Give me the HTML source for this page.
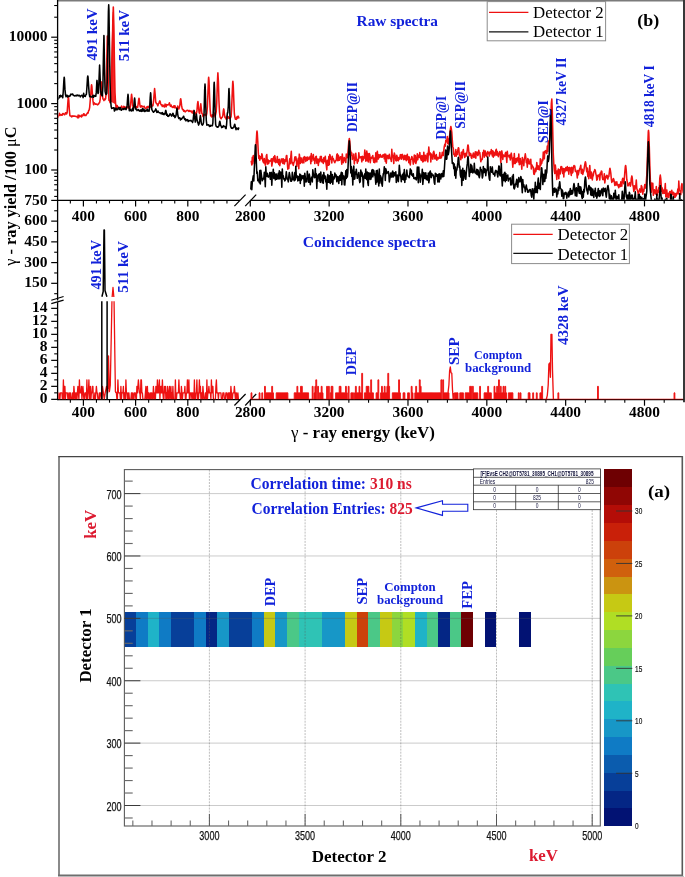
<!DOCTYPE html>
<html><head><meta charset="utf-8"><title>Spectra figure</title>
<style>html,body{margin:0;padding:0;background:#fff;}body{width:685px;height:877px;overflow:hidden;}svg{display:block;}</style>
</head><body>
<svg width="685" height="877" viewBox="0 0 685 877">
<defs><clipPath id="cliptop"><rect x="58.3" y="1.5" width="624.6" height="198.3"/></clipPath><clipPath id="clipbot"><rect x="58.3" y="200.9" width="624.6" height="198.3"/></clipPath></defs>
<rect x="0" y="0" width="685" height="877" fill="#fff"/>
<rect x="57.6" y="0" width="626.7" height="1.5" fill="#7b7b7b"/>
<line x1="57.6" y1="0" x2="57.6" y2="300.5" stroke="#000" stroke-width="1.3" />
<line x1="57.6" y1="302.2" x2="57.6" y2="400.2" stroke="#000" stroke-width="1.3" />
<line x1="684" y1="0" x2="684" y2="402.3" stroke="#383838" stroke-width="2" />
<line x1="57.6" y1="200.3" x2="240" y2="200.3" stroke="#000" stroke-width="1.2" />
<line x1="250.3" y1="200.3" x2="683.5" y2="200.3" stroke="#000" stroke-width="1.2" />
<line x1="234.4" y1="206.2" x2="245.6" y2="194.7" stroke="#000" stroke-width="1.2" />
<line x1="245.2" y1="206.2" x2="256.2" y2="194.7" stroke="#000" stroke-width="1.2" />
<line x1="57.6" y1="399.6" x2="240" y2="399.6" stroke="#000" stroke-width="1.2" />
<line x1="250.3" y1="399.6" x2="683.5" y2="399.6" stroke="#000" stroke-width="1.2" />
<line x1="234.4" y1="405.5" x2="245.6" y2="394" stroke="#000" stroke-width="1.2" />
<line x1="245.2" y1="405.5" x2="256.2" y2="394" stroke="#000" stroke-width="1.2" />
<line x1="51.3" y1="300.3" x2="63.6" y2="296.5" stroke="#000" stroke-width="1.2" />
<line x1="51.3" y1="303.6" x2="63.6" y2="300.1" stroke="#000" stroke-width="1.2" />
<line x1="54.2" y1="196.42" x2="57.6" y2="196.42" stroke="#000" stroke-width="1.1" />
<line x1="54.2" y1="189.99" x2="57.6" y2="189.99" stroke="#000" stroke-width="1.1" />
<line x1="54.2" y1="184.73" x2="57.6" y2="184.73" stroke="#000" stroke-width="1.1" />
<line x1="54.2" y1="180.29" x2="57.6" y2="180.29" stroke="#000" stroke-width="1.1" />
<line x1="54.2" y1="176.43" x2="57.6" y2="176.43" stroke="#000" stroke-width="1.1" />
<line x1="54.2" y1="173.04" x2="57.6" y2="173.04" stroke="#000" stroke-width="1.1" />
<line x1="51.2" y1="170" x2="57.6" y2="170" stroke="#000" stroke-width="1.2" />
<line x1="54.2" y1="150.01" x2="57.6" y2="150.01" stroke="#000" stroke-width="1.1" />
<line x1="54.2" y1="138.32" x2="57.6" y2="138.32" stroke="#000" stroke-width="1.1" />
<line x1="54.2" y1="130.02" x2="57.6" y2="130.02" stroke="#000" stroke-width="1.1" />
<line x1="54.2" y1="123.59" x2="57.6" y2="123.59" stroke="#000" stroke-width="1.1" />
<line x1="54.2" y1="118.33" x2="57.6" y2="118.33" stroke="#000" stroke-width="1.1" />
<line x1="54.2" y1="113.89" x2="57.6" y2="113.89" stroke="#000" stroke-width="1.1" />
<line x1="54.2" y1="110.03" x2="57.6" y2="110.03" stroke="#000" stroke-width="1.1" />
<line x1="54.2" y1="106.64" x2="57.6" y2="106.64" stroke="#000" stroke-width="1.1" />
<line x1="51.2" y1="103.6" x2="57.6" y2="103.6" stroke="#000" stroke-width="1.2" />
<line x1="54.2" y1="83.61" x2="57.6" y2="83.61" stroke="#000" stroke-width="1.1" />
<line x1="54.2" y1="71.92" x2="57.6" y2="71.92" stroke="#000" stroke-width="1.1" />
<line x1="54.2" y1="63.62" x2="57.6" y2="63.62" stroke="#000" stroke-width="1.1" />
<line x1="54.2" y1="57.19" x2="57.6" y2="57.19" stroke="#000" stroke-width="1.1" />
<line x1="54.2" y1="51.93" x2="57.6" y2="51.93" stroke="#000" stroke-width="1.1" />
<line x1="54.2" y1="47.49" x2="57.6" y2="47.49" stroke="#000" stroke-width="1.1" />
<line x1="54.2" y1="43.63" x2="57.6" y2="43.63" stroke="#000" stroke-width="1.1" />
<line x1="54.2" y1="40.24" x2="57.6" y2="40.24" stroke="#000" stroke-width="1.1" />
<line x1="51.2" y1="37.2" x2="57.6" y2="37.2" stroke="#000" stroke-width="1.2" />
<line x1="54.2" y1="17.21" x2="57.6" y2="17.21" stroke="#000" stroke-width="1.1" />
<line x1="54.2" y1="5.52" x2="57.6" y2="5.52" stroke="#000" stroke-width="1.1" />
<text x="47.6" y="174.1" font-family='"Liberation Serif", "Times New Roman", serif' font-size="15.5" fill="#000" font-weight="bold" text-anchor="end" >100</text>
<text x="47.6" y="107.7" font-family='"Liberation Serif", "Times New Roman", serif' font-size="15.5" fill="#000" font-weight="bold" text-anchor="end" >1000</text>
<text x="47.6" y="41.3" font-family='"Liberation Serif", "Times New Roman", serif' font-size="15.5" fill="#000" font-weight="bold" text-anchor="end" >10000</text>
<line x1="54.2" y1="293.69" x2="57.6" y2="293.69" stroke="#000" stroke-width="1.1" />
<line x1="51.2" y1="283.32" x2="57.6" y2="283.32" stroke="#000" stroke-width="1.2" />
<text x="47.6" y="287.42" font-family='"Liberation Serif", "Times New Roman", serif' font-size="15.5" fill="#000" font-weight="bold" text-anchor="end" >150</text>
<line x1="54.2" y1="272.96" x2="57.6" y2="272.96" stroke="#000" stroke-width="1.1" />
<line x1="51.2" y1="262.59" x2="57.6" y2="262.59" stroke="#000" stroke-width="1.2" />
<text x="47.6" y="266.69" font-family='"Liberation Serif", "Times New Roman", serif' font-size="15.5" fill="#000" font-weight="bold" text-anchor="end" >300</text>
<line x1="54.2" y1="252.23" x2="57.6" y2="252.23" stroke="#000" stroke-width="1.1" />
<line x1="51.2" y1="241.86" x2="57.6" y2="241.86" stroke="#000" stroke-width="1.2" />
<text x="47.6" y="245.96" font-family='"Liberation Serif", "Times New Roman", serif' font-size="15.5" fill="#000" font-weight="bold" text-anchor="end" >450</text>
<line x1="54.2" y1="231.5" x2="57.6" y2="231.5" stroke="#000" stroke-width="1.1" />
<line x1="51.2" y1="221.13" x2="57.6" y2="221.13" stroke="#000" stroke-width="1.2" />
<text x="47.6" y="225.23" font-family='"Liberation Serif", "Times New Roman", serif' font-size="15.5" fill="#000" font-weight="bold" text-anchor="end" >600</text>
<line x1="54.2" y1="210.77" x2="57.6" y2="210.77" stroke="#000" stroke-width="1.1" />
<line x1="51.2" y1="200.4" x2="57.6" y2="200.4" stroke="#000" stroke-width="1.2" />
<text x="47.6" y="204.5" font-family='"Liberation Serif", "Times New Roman", serif' font-size="15.5" fill="#000" font-weight="bold" text-anchor="end" >750</text>
<line x1="51.2" y1="399.35" x2="57.6" y2="399.35" stroke="#000" stroke-width="1.2" />
<text x="47.6" y="403.45" font-family='"Liberation Serif", "Times New Roman", serif' font-size="15.5" fill="#000" font-weight="bold" text-anchor="end" >0</text>
<line x1="54.2" y1="392.85" x2="57.6" y2="392.85" stroke="#000" stroke-width="1.1" />
<line x1="51.2" y1="386.35" x2="57.6" y2="386.35" stroke="#000" stroke-width="1.2" />
<text x="47.6" y="390.45" font-family='"Liberation Serif", "Times New Roman", serif' font-size="15.5" fill="#000" font-weight="bold" text-anchor="end" >2</text>
<line x1="54.2" y1="379.85" x2="57.6" y2="379.85" stroke="#000" stroke-width="1.1" />
<line x1="51.2" y1="373.35" x2="57.6" y2="373.35" stroke="#000" stroke-width="1.2" />
<text x="47.6" y="377.45" font-family='"Liberation Serif", "Times New Roman", serif' font-size="15.5" fill="#000" font-weight="bold" text-anchor="end" >4</text>
<line x1="54.2" y1="366.85" x2="57.6" y2="366.85" stroke="#000" stroke-width="1.1" />
<line x1="51.2" y1="360.35" x2="57.6" y2="360.35" stroke="#000" stroke-width="1.2" />
<text x="47.6" y="364.45" font-family='"Liberation Serif", "Times New Roman", serif' font-size="15.5" fill="#000" font-weight="bold" text-anchor="end" >6</text>
<line x1="54.2" y1="353.85" x2="57.6" y2="353.85" stroke="#000" stroke-width="1.1" />
<line x1="51.2" y1="347.35" x2="57.6" y2="347.35" stroke="#000" stroke-width="1.2" />
<text x="47.6" y="351.45" font-family='"Liberation Serif", "Times New Roman", serif' font-size="15.5" fill="#000" font-weight="bold" text-anchor="end" >8</text>
<line x1="54.2" y1="340.85" x2="57.6" y2="340.85" stroke="#000" stroke-width="1.1" />
<line x1="51.2" y1="334.35" x2="57.6" y2="334.35" stroke="#000" stroke-width="1.2" />
<text x="47.6" y="338.45" font-family='"Liberation Serif", "Times New Roman", serif' font-size="15.5" fill="#000" font-weight="bold" text-anchor="end" >10</text>
<line x1="54.2" y1="327.85" x2="57.6" y2="327.85" stroke="#000" stroke-width="1.1" />
<line x1="51.2" y1="321.35" x2="57.6" y2="321.35" stroke="#000" stroke-width="1.2" />
<text x="47.6" y="325.45" font-family='"Liberation Serif", "Times New Roman", serif' font-size="15.5" fill="#000" font-weight="bold" text-anchor="end" >12</text>
<line x1="54.2" y1="314.85" x2="57.6" y2="314.85" stroke="#000" stroke-width="1.1" />
<line x1="51.2" y1="308.35" x2="57.6" y2="308.35" stroke="#000" stroke-width="1.2" />
<text x="47.6" y="312.45" font-family='"Liberation Serif", "Times New Roman", serif' font-size="15.5" fill="#000" font-weight="bold" text-anchor="end" >14</text>
<line x1="70.35" y1="200.3" x2="70.35" y2="203.4" stroke="#000" stroke-width="1.1" />
<line x1="83.4" y1="200.3" x2="83.4" y2="206.4" stroke="#000" stroke-width="1.2" />
<text x="83.4" y="220.9" font-family='"Liberation Serif", "Times New Roman", serif' font-size="15.4" fill="#000" font-weight="bold" text-anchor="middle" >400</text>
<line x1="96.45" y1="200.3" x2="96.45" y2="203.4" stroke="#000" stroke-width="1.1" />
<line x1="109.5" y1="200.3" x2="109.5" y2="203.4" stroke="#000" stroke-width="1.1" />
<line x1="122.55" y1="200.3" x2="122.55" y2="203.4" stroke="#000" stroke-width="1.1" />
<line x1="135.6" y1="200.3" x2="135.6" y2="206.4" stroke="#000" stroke-width="1.2" />
<text x="135.6" y="220.9" font-family='"Liberation Serif", "Times New Roman", serif' font-size="15.4" fill="#000" font-weight="bold" text-anchor="middle" >600</text>
<line x1="148.65" y1="200.3" x2="148.65" y2="203.4" stroke="#000" stroke-width="1.1" />
<line x1="161.7" y1="200.3" x2="161.7" y2="203.4" stroke="#000" stroke-width="1.1" />
<line x1="174.75" y1="200.3" x2="174.75" y2="203.4" stroke="#000" stroke-width="1.1" />
<line x1="187.8" y1="200.3" x2="187.8" y2="206.4" stroke="#000" stroke-width="1.2" />
<text x="187.8" y="220.9" font-family='"Liberation Serif", "Times New Roman", serif' font-size="15.4" fill="#000" font-weight="bold" text-anchor="middle" >800</text>
<line x1="200.85" y1="200.3" x2="200.85" y2="203.4" stroke="#000" stroke-width="1.1" />
<line x1="213.9" y1="200.3" x2="213.9" y2="203.4" stroke="#000" stroke-width="1.1" />
<line x1="226.95" y1="200.3" x2="226.95" y2="203.4" stroke="#000" stroke-width="1.1" />
<line x1="250.3" y1="200.3" x2="250.3" y2="206.4" stroke="#000" stroke-width="1.2" />
<text x="250.3" y="220.9" font-family='"Liberation Serif", "Times New Roman", serif' font-size="15.4" fill="#000" font-weight="bold" text-anchor="middle" >2800</text>
<line x1="270.01" y1="200.3" x2="270.01" y2="203.4" stroke="#000" stroke-width="1.1" />
<line x1="289.72" y1="200.3" x2="289.72" y2="203.4" stroke="#000" stroke-width="1.1" />
<line x1="309.43" y1="200.3" x2="309.43" y2="203.4" stroke="#000" stroke-width="1.1" />
<line x1="329.14" y1="200.3" x2="329.14" y2="206.4" stroke="#000" stroke-width="1.2" />
<text x="329.14" y="220.9" font-family='"Liberation Serif", "Times New Roman", serif' font-size="15.4" fill="#000" font-weight="bold" text-anchor="middle" >3200</text>
<line x1="348.85" y1="200.3" x2="348.85" y2="203.4" stroke="#000" stroke-width="1.1" />
<line x1="368.56" y1="200.3" x2="368.56" y2="203.4" stroke="#000" stroke-width="1.1" />
<line x1="388.27" y1="200.3" x2="388.27" y2="203.4" stroke="#000" stroke-width="1.1" />
<line x1="407.98" y1="200.3" x2="407.98" y2="206.4" stroke="#000" stroke-width="1.2" />
<text x="407.98" y="220.9" font-family='"Liberation Serif", "Times New Roman", serif' font-size="15.4" fill="#000" font-weight="bold" text-anchor="middle" >3600</text>
<line x1="427.69" y1="200.3" x2="427.69" y2="203.4" stroke="#000" stroke-width="1.1" />
<line x1="447.4" y1="200.3" x2="447.4" y2="203.4" stroke="#000" stroke-width="1.1" />
<line x1="467.11" y1="200.3" x2="467.11" y2="203.4" stroke="#000" stroke-width="1.1" />
<line x1="486.82" y1="200.3" x2="486.82" y2="206.4" stroke="#000" stroke-width="1.2" />
<text x="486.82" y="220.9" font-family='"Liberation Serif", "Times New Roman", serif' font-size="15.4" fill="#000" font-weight="bold" text-anchor="middle" >4000</text>
<line x1="506.53" y1="200.3" x2="506.53" y2="203.4" stroke="#000" stroke-width="1.1" />
<line x1="526.24" y1="200.3" x2="526.24" y2="203.4" stroke="#000" stroke-width="1.1" />
<line x1="545.95" y1="200.3" x2="545.95" y2="203.4" stroke="#000" stroke-width="1.1" />
<line x1="565.66" y1="200.3" x2="565.66" y2="206.4" stroke="#000" stroke-width="1.2" />
<text x="565.66" y="220.9" font-family='"Liberation Serif", "Times New Roman", serif' font-size="15.4" fill="#000" font-weight="bold" text-anchor="middle" >4400</text>
<line x1="585.37" y1="200.3" x2="585.37" y2="203.4" stroke="#000" stroke-width="1.1" />
<line x1="605.08" y1="200.3" x2="605.08" y2="203.4" stroke="#000" stroke-width="1.1" />
<line x1="624.79" y1="200.3" x2="624.79" y2="203.4" stroke="#000" stroke-width="1.1" />
<line x1="644.5" y1="200.3" x2="644.5" y2="206.4" stroke="#000" stroke-width="1.2" />
<text x="644.5" y="220.9" font-family='"Liberation Serif", "Times New Roman", serif' font-size="15.4" fill="#000" font-weight="bold" text-anchor="middle" >4800</text>
<line x1="664.21" y1="200.3" x2="664.21" y2="203.4" stroke="#000" stroke-width="1.1" />
<line x1="70.35" y1="399.6" x2="70.35" y2="402.7" stroke="#000" stroke-width="1.1" />
<line x1="83.4" y1="399.6" x2="83.4" y2="405.7" stroke="#000" stroke-width="1.2" />
<text x="83.4" y="416.6" font-family='"Liberation Serif", "Times New Roman", serif' font-size="15.4" fill="#000" font-weight="bold" text-anchor="middle" >400</text>
<line x1="96.45" y1="399.6" x2="96.45" y2="402.7" stroke="#000" stroke-width="1.1" />
<line x1="109.5" y1="399.6" x2="109.5" y2="402.7" stroke="#000" stroke-width="1.1" />
<line x1="122.55" y1="399.6" x2="122.55" y2="402.7" stroke="#000" stroke-width="1.1" />
<line x1="135.6" y1="399.6" x2="135.6" y2="405.7" stroke="#000" stroke-width="1.2" />
<text x="135.6" y="416.6" font-family='"Liberation Serif", "Times New Roman", serif' font-size="15.4" fill="#000" font-weight="bold" text-anchor="middle" >600</text>
<line x1="148.65" y1="399.6" x2="148.65" y2="402.7" stroke="#000" stroke-width="1.1" />
<line x1="161.7" y1="399.6" x2="161.7" y2="402.7" stroke="#000" stroke-width="1.1" />
<line x1="174.75" y1="399.6" x2="174.75" y2="402.7" stroke="#000" stroke-width="1.1" />
<line x1="187.8" y1="399.6" x2="187.8" y2="405.7" stroke="#000" stroke-width="1.2" />
<text x="187.8" y="416.6" font-family='"Liberation Serif", "Times New Roman", serif' font-size="15.4" fill="#000" font-weight="bold" text-anchor="middle" >800</text>
<line x1="200.85" y1="399.6" x2="200.85" y2="402.7" stroke="#000" stroke-width="1.1" />
<line x1="213.9" y1="399.6" x2="213.9" y2="402.7" stroke="#000" stroke-width="1.1" />
<line x1="226.95" y1="399.6" x2="226.95" y2="402.7" stroke="#000" stroke-width="1.1" />
<line x1="250.3" y1="399.6" x2="250.3" y2="405.7" stroke="#000" stroke-width="1.2" />
<text x="250.3" y="416.6" font-family='"Liberation Serif", "Times New Roman", serif' font-size="15.4" fill="#000" font-weight="bold" text-anchor="middle" >2800</text>
<line x1="270.01" y1="399.6" x2="270.01" y2="402.7" stroke="#000" stroke-width="1.1" />
<line x1="289.72" y1="399.6" x2="289.72" y2="402.7" stroke="#000" stroke-width="1.1" />
<line x1="309.43" y1="399.6" x2="309.43" y2="402.7" stroke="#000" stroke-width="1.1" />
<line x1="329.14" y1="399.6" x2="329.14" y2="405.7" stroke="#000" stroke-width="1.2" />
<text x="329.14" y="416.6" font-family='"Liberation Serif", "Times New Roman", serif' font-size="15.4" fill="#000" font-weight="bold" text-anchor="middle" >3200</text>
<line x1="348.85" y1="399.6" x2="348.85" y2="402.7" stroke="#000" stroke-width="1.1" />
<line x1="368.56" y1="399.6" x2="368.56" y2="402.7" stroke="#000" stroke-width="1.1" />
<line x1="388.27" y1="399.6" x2="388.27" y2="402.7" stroke="#000" stroke-width="1.1" />
<line x1="407.98" y1="399.6" x2="407.98" y2="405.7" stroke="#000" stroke-width="1.2" />
<text x="407.98" y="416.6" font-family='"Liberation Serif", "Times New Roman", serif' font-size="15.4" fill="#000" font-weight="bold" text-anchor="middle" >3600</text>
<line x1="427.69" y1="399.6" x2="427.69" y2="402.7" stroke="#000" stroke-width="1.1" />
<line x1="447.4" y1="399.6" x2="447.4" y2="402.7" stroke="#000" stroke-width="1.1" />
<line x1="467.11" y1="399.6" x2="467.11" y2="402.7" stroke="#000" stroke-width="1.1" />
<line x1="486.82" y1="399.6" x2="486.82" y2="405.7" stroke="#000" stroke-width="1.2" />
<text x="486.82" y="416.6" font-family='"Liberation Serif", "Times New Roman", serif' font-size="15.4" fill="#000" font-weight="bold" text-anchor="middle" >4000</text>
<line x1="506.53" y1="399.6" x2="506.53" y2="402.7" stroke="#000" stroke-width="1.1" />
<line x1="526.24" y1="399.6" x2="526.24" y2="402.7" stroke="#000" stroke-width="1.1" />
<line x1="545.95" y1="399.6" x2="545.95" y2="402.7" stroke="#000" stroke-width="1.1" />
<line x1="565.66" y1="399.6" x2="565.66" y2="405.7" stroke="#000" stroke-width="1.2" />
<text x="565.66" y="416.6" font-family='"Liberation Serif", "Times New Roman", serif' font-size="15.4" fill="#000" font-weight="bold" text-anchor="middle" >4400</text>
<line x1="585.37" y1="399.6" x2="585.37" y2="402.7" stroke="#000" stroke-width="1.1" />
<line x1="605.08" y1="399.6" x2="605.08" y2="402.7" stroke="#000" stroke-width="1.1" />
<line x1="624.79" y1="399.6" x2="624.79" y2="402.7" stroke="#000" stroke-width="1.1" />
<line x1="644.5" y1="399.6" x2="644.5" y2="405.7" stroke="#000" stroke-width="1.2" />
<text x="644.5" y="416.6" font-family='"Liberation Serif", "Times New Roman", serif' font-size="15.4" fill="#000" font-weight="bold" text-anchor="middle" >4800</text>
<line x1="664.21" y1="399.6" x2="664.21" y2="402.7" stroke="#000" stroke-width="1.1" />
<g clip-path="url(#cliptop)">
<path d="M109.6,101 L112.7,12 L113.7,12 L115.1,104 Z" fill="#ee1111" opacity="0.9"/>
<polyline points="57.8,117.77 58.35,115.76 58.9,115.4 59.45,113.27 60,115.47 60.55,115.01 61.1,114.64 61.65,115.23 62.2,115.14 62.75,113.62 63.3,113.63 63.85,113.86 64.4,114.77 64.95,114.52 65.5,112.7 66.05,112.73 66.6,114.04 67.15,112.66 67.7,104.88 68.25,96.95 68.4,96.5 68.8,100.26 69.35,110.2 69.9,115.69 70.45,116.08 71,115.96 71.55,116.89 72.1,115.92 72.65,116.34 73.2,115.98 73.75,116.32 74.3,116.06 74.85,116.33 75.4,116.16 75.95,116.58 76.5,116.56 77.05,116.77 77.6,117.76 78.15,115.11 78.7,117.67 79.25,116.29 79.8,115.39 80.35,116.23 80.9,116.28 81.45,116.98 82,114.88 82.55,115.85 83.1,115.57 83.65,113.77 84.2,114.03 84.75,115.46 85.3,115.36 85.85,115.53 86.4,114.51 86.95,113.75 87.5,112.86 88.05,113.2 88.6,110.71 89.15,110.03 89.7,107.12 90.25,100.41 90.8,93.87 91.35,85.84 91.6,84.8 91.9,86.64 92.45,94.45 93,100.93 93.55,104.7 94.1,102.76 94.65,103.34 95.2,104.17 95.75,104.09 96.3,104.19 96.85,103.97 97.4,104.82 97.95,104.5 98.5,104.1 99.05,102.92 99.6,102.68 100.15,99.71 100.7,92.81 101.25,82.65 101.4,81.9 101.8,85.65 102.35,94.5 102.9,98.69 103.45,99.47 104,100.62 104.55,99.04 105.1,99.61 105.65,98.53 106.2,90.85 106.75,61.39 107.3,36 107.85,60.93 108.4,91.47 108.95,100.57 109.5,100.03 110.05,102.71 110.6,101.8 111.15,98.16 111.7,83.52 112.25,53.93 112.8,20.48 113.3,7 113.35,7.21 113.9,27.29 114.45,63.94 115,92.26 115.55,103.03 116.1,108.29 116.65,105.5 117.2,105.52 117.75,108.14 118.3,107.12 118.85,107.87 119.4,107.81 119.95,107.25 120.5,107.94 121.05,107.45 121.6,105.93 122.15,107.5 122.7,107.46 123.25,108.94 123.8,106.27 124.35,107.29 124.9,106.89 125.45,107.14 126,108.75 126.55,107.59 127.1,106.82 127.65,107.37 128.2,107.91 128.75,106.32 129.3,106.97 129.85,108.47 130.4,106.62 130.95,100.76 131.5,94.51 131.6,94.3 132.05,97.66 132.6,105.25 133.15,107.17 133.7,107.22 134.25,105.93 134.8,106.44 135.35,107.53 135.9,107.28 136.45,106.59 137,107.46 137.55,107.51 138.1,104.33 138.65,99.75 139,98.2 139.2,98.71 139.75,103.83 140.3,106.8 140.85,107.2 141.4,105.86 141.95,105.96 142.5,106.83 143.05,106.5 143.6,106.97 144.15,106.22 144.7,107.42 145.25,108.44 145.8,108.2 146.35,108.24 146.9,106.84 147.45,107.59 148,106.41 148.55,107.56 149.1,106.38 149.65,106.27 150.2,106.07 150.75,107.12 151.3,106.59 151.85,106.36 152.4,105 152.95,105.62 153.5,101.69 154.05,94.8 154.6,88.5 155.15,94.2 155.7,101.91 156.25,103.27 156.8,103.59 157.35,104.65 157.9,105.86 158.45,103.54 159,103.2 159.55,101.31 159.8,100.9 160.1,101.4 160.65,103.73 161.2,104.84 161.75,104.68 162.3,106.49 162.85,105.05 163.4,105.6 163.95,106.79 164.5,106.96 165.05,104.08 165.6,105.29 166.15,106.79 166.7,104.61 167.25,105.14 167.8,104.93 168.35,104.84 168.9,103.82 169.4,102.8 169.45,102.83 170,105.32 170.55,106.41 171.1,105.01 171.65,106.83 172.2,106.69 172.75,107.43 173.3,107.11 173.85,105.72 174.4,107.82 174.95,105.71 175.5,107.06 176.05,108.08 176.6,108.22 177.15,109.44 177.7,106.01 178.25,108.59 178.8,109.01 179.35,107.6 179.9,104.84 180.45,99.42 180.7,98.7 181,100.07 181.55,105.17 182.1,108.44 182.65,109.61 183.2,109.43 183.75,111.15 184.3,110.56 184.85,111.78 185.4,111.85 185.95,111.04 186.5,110.86 187.05,110.22 187.6,110.39 188.15,110.43 188.7,111.51 189.25,110.44 189.8,111.34 190.35,111.48 190.9,110.9 191.45,111.22 192,112.73 192.55,112.92 193.1,110.84 193.65,111.62 194.2,111.71 194.75,112.04 195.3,113.91 195.85,113.35 196.4,113.51 196.95,110.77 197.5,103.79 197.9,101.6 198.05,102.03 198.6,108.14 199.15,112.61 199.7,113.64 200.25,108.9 200.8,103.8 201.35,109.08 201.9,113.55 202.45,113.88 203,116.51 203.55,115.91 204.1,114.66 204.65,115.05 205.2,115.1 205.75,113.98 206.3,115.49 206.85,113.05 207.4,106.8 207.95,92.47 208.5,78.54 208.7,77.2 209.05,81.18 209.6,96.87 210.15,109.62 210.7,115.94 211.25,115.23 211.8,116.95 212.35,114.68 212.9,116.16 213.45,115.65 214,114.84 214.55,113.12 215.1,116.92 215.65,114.26 216.2,111.87 216.75,102.7 217.3,84.57 217.85,72.88 217.9,72.8 218.4,81.51 218.95,100.91 219.5,112.01 220.05,116.82 220.6,118 221.15,118.76 221.7,117.5 222.25,117.31 222.8,115.82 223.35,110.55 223.7,108.9 223.9,109.53 224.45,114.28 225,117.54 225.55,117.41 226.1,119.14 226.65,119.04 227.2,116.01 227.75,117.81 228.3,116.8 228.85,118.2 229.4,117.84 229.95,118.52 230.5,117.82 231.05,116.69 231.6,109.53 232.15,94.95 232.7,82.44 232.9,81.2 233.25,85.02 233.8,99.91 234.35,113.68 234.9,117.19 235.45,119.28 236,117.76 236.55,119.38 237.1,116.64 237.65,118.08 238.2,116.16 238.75,117.58 239.3,118.43" fill="none" stroke="#ee1111" stroke-width="1.55" stroke-linejoin="round" />
<polyline points="57.8,99.78 58.35,98.13 58.9,98.14 59.45,95.86 60,97.1 60.55,95.23 61.1,96.43 61.65,96.29 62.2,95.68 62.75,97.81 63.3,91 63.85,80.76 64.2,77.2 64.4,78.36 64.95,89.16 65.5,94.87 66.05,96.8 66.6,95.31 67.15,95.18 67.7,96.93 68.25,96.32 68.8,96 69.35,96.36 69.9,96.23 70.45,94.88 71,94.03 71.55,94.45 72.1,94.37 72.65,94.03 73.2,95.28 73.75,95.38 74.3,95.77 74.85,95.97 75.4,95.49 75.95,95.6 76.5,95.86 77.05,95 77.6,95.23 78.15,95.83 78.7,95.26 79.25,95.34 79.8,95.72 80.35,96.87 80.9,96.05 81.45,95.53 82,95.33 82.55,95.71 83.1,97.59 83.65,93.28 84.2,96.23 84.75,95.98 85.3,96.49 85.85,94.65 86.4,94.53 86.95,86.73 87.5,77.73 87.8,76 88.05,77.26 88.6,85.81 89.15,93.15 89.7,96.65 90.25,96.74 90.8,96.43 91.35,97.04 91.9,96.94 92.45,96.68 93,95.28 93.55,97.32 94.1,95.57 94.65,95.69 95.2,96.35 95.75,96.33 96.3,92.13 96.85,81.23 97,80.4 97.4,85.65 97.95,93.53 98.5,92.59 99.05,78.73 99.6,65.1 100.15,78.24 100.7,91.23 101.25,94.71 101.8,95.19 102.35,95.92 102.9,86.35 103.45,54.9 103.9,35.5 104,36.67 104.55,69.57 105.1,91.38 105.65,93.86 106.2,94.38 106.75,93.45 107.3,80.54 107.85,47.88 108.4,11.64 108.7,4.8 108.95,10.22 109.5,46.8 110.05,82.99 110.6,100.02 111.15,106.57 111.7,108.41 112.25,108.32 112.8,108.09 113.35,107.68 113.9,107.96 114.45,111.04 115,108.12 115.55,109.85 116.1,108.19 116.65,109.77 117.2,109.69 117.75,109.08 118.3,108.23 118.85,107.66 119.4,109.55 119.95,107.77 120.5,107.84 121.05,110.14 121.6,110.15 122.15,109.07 122.7,108.91 123.25,108.64 123.8,109.51 124.35,108.91 124.9,108.14 125.45,108.81 126,109.67 126.55,108.11 127.1,106.03 127.65,97.62 128,94.3 128.2,95.51 128.75,104.8 129.3,110.73 129.85,109.06 130.4,109.39 130.95,110.72 131.5,110.96 132.05,110.53 132.6,108.14 133.15,110.66 133.7,108.25 134.25,100.67 134.6,98 134.8,99.04 135.35,106.49 135.9,109.42 136.45,109.06 137,110.59 137.55,109.98 138.1,110.11 138.65,109.67 139.2,110.8 139.75,111.18 140.3,110.95 140.85,109.72 141.4,111.34 141.95,110.89 142.5,108.66 143.05,111.14 143.6,109.04 144.15,109.77 144.7,111.54 145.25,111.23 145.8,110.2 146.35,110.02 146.9,111.01 147.45,109.31 148,111.09 148.55,110.53 149.1,111.14 149.65,107.74 150.2,97.5 150.6,92.8 150.75,93.63 151.3,103.75 151.85,109.64 152.4,110.58 152.95,111.58 153.5,112.29 154.05,111.79 154.6,110.97 155.15,110.75 155.7,108.96 155.8,108.9 156.25,110.11 156.8,112.4 157.35,112.32 157.9,111.05 158.45,111.88 159,112.6 159.55,112.77 160.1,113.01 160.65,112.96 161.2,113.86 161.75,112.92 162.3,112.53 162.85,114.33 163.4,113.55 163.95,114.8 164.5,113.59 165.05,114.02 165.6,110.68 165.8,110.4 166.15,111.67 166.7,115.28 167.25,114.25 167.8,116.27 168.35,116.35 168.9,115.89 169.45,115.21 170,113.75 170.55,114.37 171.1,115.1 171.65,116.18 172.2,115.05 172.75,113.4 172.9,113.3 173.3,114 173.85,116.28 174.4,115.71 174.95,117.6 175.5,116.79 176.05,115.4 176.6,110.89 177,108.2 177.15,108.72 177.7,114.1 178.25,117.04 178.8,118.34 179.35,117.83 179.9,118.06 180.45,119.97 181,118.61 181.55,119.15 182.1,118.24 182.65,117.6 183.2,117.01 183.6,116.2 183.75,116.31 184.3,118.68 184.85,119.63 185.4,118.79 185.95,120.87 186.5,119.97 187.05,119.86 187.6,119.67 188.15,121.56 188.7,120.48 189.25,120.62 189.8,120.85 190.35,120.77 190.9,120.21 191.45,121.13 192,121.17 192.55,122.55 193.1,120.31 193.65,115.19 194.1,110.4 194.2,110.71 194.75,118.33 195.3,122.05 195.85,118.68 196.4,114 196.95,119.05 197.5,121.92 198.05,123.07 198.6,125.09 199.15,123.68 199.7,120.43 200.25,115.96 200.4,115.5 200.8,118.64 201.35,123.49 201.9,124.62 202.45,125.08 203,124.37 203.55,122.19 204.1,112.26 204.65,90.4 205,84.1 205.2,86.29 205.75,106.1 206.3,120.49 206.85,125.19 207.4,124.79 207.95,124.87 208.5,124.73 209.05,125.67 209.6,126.42 210.15,125.23 210.7,126.24 211.25,125.78 211.8,125.32 212.35,125.77 212.9,122.59 213.45,105.03 214,84.57 214.2,82.2 214.55,89.07 215.1,112.19 215.65,124.44 216.2,126.4 216.75,126.4 217.3,127.29 217.85,127.18 218.4,126.43 218.95,125.89 219.5,122.2 219.8,121.3 220.05,122.06 220.6,125.41 221.15,125.97 221.7,127.59 222.25,126.9 222.8,127.25 223.35,125.66 223.9,126.33 224.45,126.23 225,126.68 225.55,128.21 226.1,128.62 226.65,123.79 227.2,114.8 227.4,112.9 227.75,112.95 228.3,105.96 228.85,89.6 229,88.48 229.4,96.3 229.95,116.1 230.5,125.81 231.05,127.5 231.6,128.22 232.15,128.03 232.7,128.35 233.25,127.6 233.8,127.22 234.35,125.18 234.7,124.2 234.9,124.61 235.45,127.29 236,129.7 236.55,128.06 237.1,128.68 237.65,128.49 238.2,129.53 238.75,127.93 239.3,127.64" fill="none" stroke="#000" stroke-width="1.55" stroke-linejoin="round" />
<polyline points="250.8,161.83 251.3,161.45 251.8,164.95 252.3,157.4 252.8,163.62 253.3,155.57 253.8,160.18 254.3,159.82 254.8,163.15 255.3,157.21 255.8,149.63 256.3,141.31 256.8,132.1 257,131.1 257.3,133.17 257.8,142.06 258.3,152.62 258.8,158.41 259.3,155.72 259.8,160.18 260.3,156.65 260.8,156.89 261.3,158.6 261.8,153.72 262.3,155.35 262.8,160.82 263.3,162.14 263.8,162.82 264.3,158.61 264.8,162.33 265.3,165.12 265.8,163.88 266.3,155.69 266.8,154.53 267.3,161.42 267.8,164.12 268.3,160.06 268.8,163.19 269.3,160.94 269.8,160.87 270.3,161.11 270.8,160.87 271.3,158.82 271.8,166.09 272.3,163.13 272.8,158.41 273.3,159.28 273.8,156.87 274.3,161.75 274.8,155.65 275.3,159.15 275.8,162.62 276.3,162.02 276.8,162.07 277.3,156.46 277.8,162.69 278.3,159.82 278.8,164.5 279.3,159.38 279.8,165.65 280.3,161.6 280.8,162.67 281.3,159.03 281.8,158.99 282.3,159.06 282.8,163.51 283.3,158.88 283.8,159.94 284.3,164.06 284.8,161.98 285.3,159.51 285.8,161.25 286.3,155.85 286.8,155.52 287.3,161.75 287.8,169.18 288.3,166.8 288.8,168.44 289.3,162.2 289.8,158.7 290.3,163.81 290.8,156.57 291.3,151.25 291.8,161.76 292.3,163.72 292.8,162.67 293.3,165.38 293.8,162.88 294.3,161.54 294.8,157.07 295.3,160.03 295.8,156.67 296.3,159.28 296.8,166.55 297.3,161.14 297.8,161.68 298.3,158.26 298.8,168.82 299.3,154.15 299.8,157.53 300.3,163.52 300.8,158.08 301.3,157.93 301.8,162.09 302.3,162.84 302.8,162.62 303.3,157.69 303.8,162.83 304.3,156.53 304.8,157.46 305.3,157.19 305.8,161.42 306.3,159.23 306.8,157.3 307.3,160.44 307.8,157.05 308.3,158.7 308.8,159.31 309.3,158.48 309.8,157.06 310.3,156.28 310.8,163.78 311.3,153.63 311.8,161.19 312.3,157.65 312.8,157.95 313.3,154.5 313.8,160.1 314.3,158.41 314.8,163.56 315.3,158.35 315.8,156.66 316.3,156.29 316.8,163.19 317.3,161.93 317.8,158.99 318.3,165.4 318.8,160.93 319.3,159.13 319.8,161.72 320.3,156.53 320.8,160.36 321.3,156.4 321.8,161.86 322.3,162.03 322.8,159.64 323.3,163.43 323.8,157.72 324.3,161.68 324.8,159.55 325.3,156.24 325.8,162.13 326.3,165.35 326.8,169.81 327.3,160.19 327.8,161.42 328.3,165.34 328.8,156.5 329.3,164.7 329.8,154.52 330.3,156.13 330.8,159.1 331.3,158.58 331.8,162.89 332.3,156.36 332.8,159.37 333.3,158.64 333.8,160.27 334.3,161.7 334.8,162.71 335.3,160.74 335.8,160.93 336.3,159.85 336.8,154.68 337.3,153.83 337.8,160.81 338.3,155.21 338.8,157.11 339.3,160.33 339.8,158.49 340.3,157.05 340.8,156.7 341.3,159.7 341.8,164.27 342.3,154.13 342.8,158.76 343.3,162.61 343.8,160.37 344.3,157.6 344.8,159.61 345.3,160.7 345.8,162.44 346.3,153.95 346.8,155.87 347.3,157.75 347.8,154.5 348.3,148.09 348.8,141.6 349.3,138.5 349.8,141.25 350.3,150.07 350.8,151.51 351.3,155.11 351.8,152.96 352.3,159.49 352.8,158.45 353.3,157.19 353.8,154.02 354.3,163.98 354.8,159.03 355.3,160.33 355.8,153.38 356.3,158.76 356.8,159.29 357.3,163.2 357.8,159.57 358.3,161.11 358.8,152.71 359.3,157.01 359.8,157.96 360.3,157.37 360.8,156.76 361.3,156.67 361.8,161.84 362.3,156.32 362.8,160.04 363.3,159.89 363.8,156.54 364.3,158.12 364.8,150.06 365.3,155.72 365.8,161.17 366.3,155.65 366.8,151.08 367.3,160.77 367.8,153.51 368.3,161.98 368.8,157.55 369.3,153.5 369.8,155.45 370.3,162.65 370.8,158.24 371.3,157.38 371.8,158.16 372.3,157.09 372.8,155.58 373.3,159.64 373.8,162.34 374.3,157.92 374.8,162.72 375.3,161.19 375.8,152.78 376.3,159.89 376.8,161.92 377.3,151.18 377.8,155.82 378.3,159.09 378.8,154.77 379.3,157.59 379.8,156.5 380.3,154.46 380.8,156.97 381.3,156 381.8,157.15 382.3,157.17 382.8,155.07 383.3,154.67 383.8,155.25 384.3,158.78 384.8,153.96 385.3,161.52 385.8,154.35 386.3,163.27 386.8,156.44 387.3,155.75 387.8,155.51 388.3,158.74 388.8,157.79 389.3,154.34 389.8,157.84 390.3,158.83 390.8,157.95 391.3,161.49 391.8,149.37 392.3,156.64 392.8,155.34 393.3,158.86 393.8,163.58 394.3,152.98 394.8,154.74 395.3,156.69 395.8,160.49 396.3,160.83 396.8,155.2 397.3,160.26 397.8,157.35 398.3,160.83 398.8,157.83 399.3,159.35 399.8,157.66 400.3,154.79 400.8,154.61 401.3,159.17 401.8,155.32 402.3,154.42 402.8,156.9 403.3,159.09 403.8,159.66 404.3,155.36 404.8,157.1 405.3,159.39 405.8,155.53 406.3,160.68 406.8,158.1 407.3,154.39 407.8,159.61 408.3,156.66 408.8,162.63 409.3,157.09 409.8,162.47 410.3,164.91 410.8,159.51 411.3,159.31 411.8,156.49 412.3,158.05 412.8,160.26 413.3,164.1 413.8,161.64 414.3,155.1 414.8,161.79 415.3,155.44 415.8,163.52 416.3,161.55 416.8,159.3 417.3,153.77 417.8,159.69 418.3,155.51 418.8,155.26 419.3,157.25 419.8,152.43 420.3,157.83 420.8,158.76 421.3,160.39 421.8,155.63 422.3,155.99 422.8,161.86 423.3,161.53 423.8,152.17 424.3,159.33 424.8,160.75 425.3,155.31 425.8,160.7 426.3,156.74 426.8,156.31 427.3,153.61 427.8,161.84 428.3,154.32 428.8,146.98 429.3,152.76 429.8,154.91 430.3,152.98 430.8,161.88 431.3,154.05 431.8,155.58 432.3,157.27 432.8,159.15 433.3,152.57 433.8,151.29 434.3,153.92 434.8,158.84 435.3,156.1 435.8,158.98 436.3,154.61 436.8,160.23 437.3,158.04 437.8,157.34 438.3,158.85 438.8,158.29 439.3,158.01 439.8,152.47 440.3,158.26 440.8,156.88 441.3,157.89 441.8,155.76 442.3,152.2 442.8,153.49 443.3,155.46 443.8,150.34 444.3,146.41 444.8,144.41 445.3,146.12 445.8,140.28 446.3,142.08 446.8,140.46 447.3,136.57 447.8,143.59 448.3,143.99 448.8,139.74 449.3,137.71 449.8,134.34 450.3,129.6 450.8,126.58 450.9,126.6 451.3,128.69 451.8,132.24 452.3,139.98 452.8,146.67 453.3,148.33 453.8,154.46 454.3,154.13 454.8,156.24 455.3,154.45 455.8,149.59 456.3,156.18 456.8,151.76 457.3,154.47 457.8,150.15 458.3,147.84 458.4,147.7 458.8,148.23 459.3,155.09 459.8,155.48 460.3,158.6 460.8,159.77 461.3,152.42 461.8,152.18 462.3,157.98 462.8,152.02 463.3,149.59 463.8,153.24 464.3,154.75 464.8,157.49 465.3,153.91 465.8,153.21 466.3,156.02 466.8,153.29 467.3,149.82 467.8,145.3 468,145 468.3,145.7 468.8,151.32 469.3,155.75 469.8,152.99 470.3,155.26 470.8,153.84 471.3,157.51 471.8,158.4 472.3,155.32 472.8,155.98 473.3,153.02 473.8,157.46 474.3,157.21 474.8,154.34 475.3,151.86 475.8,158.2 476.3,151.92 476.8,153.13 477.3,152.29 477.8,155.56 478.3,154.44 478.8,150.39 479.3,152.88 479.8,152.48 480.3,157.22 480.8,161.79 481.3,159.6 481.8,159.67 482.3,159.14 482.8,152.6 483.3,152.89 483.8,150.24 484.3,157.2 484.8,154.66 485.3,150.92 485.8,155.41 486.3,153.59 486.8,156.68 487.3,152.88 487.8,151.59 488.3,153.45 488.8,153.08 489.3,156.09 489.8,152.24 490.3,151.86 490.8,153.78 491.3,149.54 491.8,151.89 492.3,155.92 492.8,150.78 493.3,157.14 493.8,151.97 494.3,153.2 494.8,155.7 495.3,154.53 495.8,150.28 496.3,149.24 496.8,155.13 497.3,151.44 497.8,153.61 498.3,156.66 498.8,154.13 499.3,153.16 499.8,151.46 500.3,155.52 500.8,162.68 501.3,152.38 501.8,150.87 502.3,154.33 502.8,159.54 503.3,154.9 503.8,155.54 504.3,155.8 504.8,156.67 505.3,153.26 505.8,152.35 506.3,156.37 506.8,162.52 507.3,151.37 507.8,155.97 508.3,156.05 508.8,155.62 509.3,157.57 509.8,155.12 510.3,159.97 510.8,154.95 511.3,153.13 511.8,157.19 512.3,159.84 512.8,167.28 513.3,157.66 513.8,163.77 514.3,153.64 514.8,161.65 515.3,163.46 515.8,158.83 516.3,162.13 516.8,158.41 517.3,157.94 517.8,159.1 518.3,162.03 518.8,154.05 519.3,164.62 519.8,159.52 520.3,158.56 520.8,164.25 521.3,161.41 521.8,169.13 522.3,157.44 522.8,160.5 523.3,159.8 523.8,165.76 524.3,159.14 524.8,157.1 525.3,153.88 525.8,157.3 526.3,162.67 526.8,160.33 527.3,167.13 527.8,158.6 528.3,163.49 528.8,159.62 529.3,163.94 529.8,162.4 530.3,163.58 530.8,159.39 531.3,169.03 531.8,164.66 532.3,166.07 532.8,166.62 533.3,167.61 533.8,174.08 534.3,174.36 534.8,172.33 535.3,168.31 535.8,171.6 536.3,169.09 536.8,162.55 537.3,167.25 537.8,169.3 538.3,165.89 538.8,166.52 539.3,169.89 539.8,169.21 540.3,158.86 540.8,165.13 541.3,163.37 541.8,163.18 542.3,159.22 542.8,160.64 543.3,152 543.8,156.51 544.3,158.83 544.8,151.24 545.3,152.54 545.8,150.65 546.3,152.5 546.8,153.62 547.3,146.13 547.8,151.58 548.3,141.01 548.8,142.88 549.3,142.12 549.8,137.29 550.3,132.17 550.8,119.96 551.3,103.69 551.8,99 552.3,111.56 552.8,133.39 553.3,154.34 553.8,163.69 554.3,170.6 554.8,173.55 555.3,165.07 555.8,169.65 556.3,173.34 556.8,179.36 557.3,171.1 557.8,171.62 558.3,169.03 558.8,178.71 559.3,169.79 559.8,172.73 560.3,173.86 560.8,166.83 561.3,166.55 561.8,166.88 562.3,171.02 562.8,173.48 563.3,168.54 563.8,177.06 564.3,168.78 564.8,172.05 565.3,170.43 565.8,167.6 566.3,169.8 566.8,170.69 567.3,166.57 567.8,170.75 568.3,167.84 568.8,174.2 569.3,167.49 569.8,167.44 570.3,168.09 570.8,172.36 571.3,175.42 571.8,167.32 572.3,173.08 572.8,172.36 573.3,167.99 573.8,165.9 574,165.5 574.3,166.08 574.8,166.03 575.3,171.15 575.8,170.09 576.3,171.87 576.8,173.17 577.3,178 577.8,170.46 578.3,174.79 578.8,172.39 579.3,169.98 579.8,168.61 580.3,167.22 580.8,165.18 581.3,173.12 581.8,173.48 582.3,169.28 582.8,174.37 583.3,172.07 583.8,170.99 584.3,167.44 584.8,164.4 585.3,161.92 585.4,161.8 585.8,163.28 586.3,168.84 586.8,171.79 587.3,167.95 587.8,176.58 588.3,171.87 588.8,178.75 589.3,169.67 589.8,165.46 590.3,174.44 590.8,178.22 591.3,171.91 591.8,173.49 592.3,179.92 592.8,176.42 593.3,175.72 593.8,171.86 594.3,171.42 594.8,169.51 595.3,170.39 595.8,173.58 596.3,175.69 596.8,180.24 597.3,179.31 597.8,175.36 598.3,175.27 598.8,176.22 599.3,174.51 599.8,180.06 600.3,173.09 600.8,174.43 601.3,170.99 601.8,171.4 602.3,177.37 602.8,179.45 603.3,179.33 603.8,179.69 604.3,173.78 604.8,183 605.3,179.01 605.8,176.38 606.3,177.72 606.8,175.17 607.3,175.75 607.8,179.04 608.3,176.88 608.8,176.6 609.3,172.54 609.8,168.61 610,168.4 610.3,169.88 610.8,173.11 611.3,178.89 611.8,182.44 612.3,180.23 612.8,181.1 613.3,178.49 613.8,179.36 614.3,182.01 614.8,185.42 615.3,182.04 615.8,184.99 616.3,183 616.8,181.82 617.3,185.09 617.8,184.32 618.3,186.56 618.8,187.72 619.3,184.57 619.8,184.67 620.3,186.43 620.8,181.84 621.3,182.59 621.8,186.27 622.3,179.84 622.8,178.22 623.3,180.57 623.8,183.83 624.3,179.29 624.8,172.54 625.3,166.7 625.6,165.5 625.8,166.1 626.3,170.97 626.8,179.73 627.3,182.19 627.8,185.83 628.3,185.74 628.8,184.05 629.3,183.16 629.8,182.68 630.3,186.25 630.8,184.69 631.3,178.59 631.8,176.05 631.9,176 632.3,178.31 632.8,185.06 633.3,186.84 633.8,191.46 634.3,185.71 634.8,189.87 635.3,187.61 635.8,186.04 636.3,179.93 636.8,188.61 637.3,190.06 637.8,191.63 638.3,194.35 638.8,192.13 639.3,190.5 639.8,188.87 640.3,190.17 640.8,192.25 641.3,185.58 641.8,186.38 642.3,189.77 642.8,194.14 643.3,189.61 643.8,191.32 644.3,187.57 644.8,184.45 645.3,185.94 645.8,188.2 646.3,181.74 646.8,174.68 647.3,160.41 647.8,143.89 648.3,131.55 648.5,130.4 648.8,132.96 649.3,147.22 649.8,164.25 650.3,179.15 650.8,187.52 651.3,192.26 651.8,183.06 652.3,187.1 652.8,183.35 653.3,195.32 653.8,191.12 654.3,189.77 654.8,191.32 655.3,193.94 655.8,192.01 656.3,186.6 656.8,193.18 657.3,195.27 657.8,190.31 658.3,192.15 658.8,187.51 659.3,188.39 659.8,178.17 660.3,175 660.8,178.9 661.3,186.22 661.8,191.47 662.3,188.1 662.8,193.52 663.3,190.05 663.8,192.08 664.3,193.3 664.8,189.82 665.3,183.46 665.8,196.95 666.3,191.87 666.8,189.92 667.3,196.98 667.8,197.06 668.3,193.2 668.8,197.58 669.3,194.14 669.8,191.41 670.3,191.54 670.8,196.13 671.3,192.91 671.8,190.32 672.3,193.69 672.8,194.63 673.3,192.23 673.8,194.37 674.3,197.31 674.8,193.26 675.3,197.1 675.8,193.7 676.3,195.7 676.8,192.98 677.3,193.22 677.8,189.02 678.3,194.09 678.8,181 679.3,190.55 679.8,190.77 680.3,190.75 680.8,194.59 681.3,186.95 681.8,184.12 682,183.6 682.3,184.96 682.8,190.09 683.3,193.31" fill="none" stroke="#ee1111" stroke-width="1.55" stroke-linejoin="round" />
<polyline points="250.8,189.63 251.3,181.87 251.8,189.78 252.3,182.22 252.8,178.94 253.3,175.67 253.8,180.88 254.3,168.55 254.8,159.13 255.3,146.12 255.5,144.7 255.8,147.38 256.3,161.09 256.8,173.46 257.3,171.95 257.8,180.61 258.3,179.48 258.8,180.78 259.3,182.61 259.8,170.59 260.3,183.99 260.8,170.17 261.3,173.99 261.8,177.94 262.3,180.79 262.8,179.13 263.3,178.08 263.8,178.86 264.3,172.3 264.8,176.76 265.3,186.67 265.8,166.73 266.3,175.76 266.8,176.32 267.3,173.18 267.8,176.19 268.3,177.15 268.8,175.75 269.3,176.45 269.8,172.44 270.3,179.17 270.8,174.25 271.3,172.39 271.8,185.25 272.3,174.57 272.8,174.93 273.3,169.17 273.8,178.47 274.3,172.7 274.8,174.12 275.3,179.89 275.8,179.07 276.3,174 276.8,179.17 277.3,178.69 277.8,176.43 278.3,173.22 278.8,178.93 279.3,170.88 279.8,178.64 280.3,177.08 280.8,172.12 281.3,172.84 281.8,187.13 282.3,168.92 282.8,177.47 283.3,175.84 283.8,179.08 284.3,178.55 284.8,180.94 285.3,180.19 285.8,177.21 286.3,171.67 286.8,176.1 287.3,179.37 287.8,179.35 288.3,181.86 288.8,176.57 289.3,172.53 289.8,175.08 290.3,178.35 290.8,181.2 291.3,181.32 291.8,180.43 292.3,172.32 292.8,175.63 293.3,179.55 293.8,178.67 294.3,180.82 294.8,172.47 295.3,179.89 295.8,166.32 296.3,175.44 296.8,177.7 297.3,176.04 297.8,180.92 298.3,176.59 298.8,177.54 299.3,180.24 299.8,173.96 300.3,183.48 300.8,174.9 301.3,179.89 301.8,178.32 302.3,175.75 302.8,177.86 303.3,178.67 303.8,175.55 304.3,186.21 304.8,173.34 305.3,177.39 305.8,181.88 306.3,179.39 306.8,181.67 307.3,171.21 307.8,176.39 308.3,177.47 308.8,182.34 309.3,174.01 309.8,177.06 310.3,184.79 310.8,178.8 311.3,178.98 311.8,176.98 312.3,181.98 312.8,169.73 313.3,173.94 313.8,174.93 314.3,177.69 314.8,177.18 315.3,168.64 315.8,177.59 316.3,173.72 316.8,188.44 317.3,176.03 317.8,181.34 318.3,174.87 318.8,176.1 319.3,173.66 319.8,180.45 320.3,182.35 320.8,171.98 321.3,179.1 321.8,180.14 322.3,182.56 322.8,175.1 323.3,183.33 323.8,172.62 324.3,178.4 324.8,175.63 325.3,176.4 325.8,181.95 326.3,179.7 326.8,189.21 327.3,177.25 327.8,174.56 328.3,182.28 328.8,178.55 329.3,175.74 329.8,182.79 330.3,183.36 330.8,171.57 331.3,175.98 331.8,182.25 332.3,174.41 332.8,184.27 333.3,176.93 333.8,179.14 334.3,178.14 334.8,173.02 335.3,176.76 335.8,174.58 336.3,175.7 336.8,181.72 337.3,180.02 337.8,176.41 338.3,178.44 338.8,183.43 339.3,177.17 339.8,175.66 340.3,180.23 340.8,174.98 341.3,172.29 341.8,184.79 342.3,172.72 342.8,177.83 343.3,178.95 343.8,175.9 344.3,184.8 344.8,184.96 345.3,178.8 345.8,170.78 346.3,178.39 346.8,169.64 347.3,177.07 347.8,172.79 348.3,160.72 348.8,147.89 349.3,140.9 349.8,146.54 350.3,159.01 350.8,172.97 351.3,166.4 351.8,176.47 352.3,170.45 352.8,184.93 353.3,169.3 353.8,166.04 354.3,179.12 354.8,178.82 355.3,172.11 355.8,174.33 356.3,169.37 356.8,174.1 357.3,178.3 357.8,176.08 358.3,174.64 358.8,172.46 359.3,179.61 359.8,182.6 360.3,181.23 360.8,169.99 361.3,176.28 361.8,172.16 362.3,174.22 362.8,177.4 363.3,186.88 363.8,177.08 364.3,175.87 364.8,173.74 365.3,178.3 365.8,169.11 366.3,178.83 366.8,179.57 367.3,172.03 367.8,182.57 368.3,185.39 368.8,172.74 369.3,179.25 369.8,173.98 370.3,173.1 370.8,179.43 371.3,177.4 371.8,170.62 372.3,169.66 372.8,176.83 373.3,170.01 373.8,170.62 374.3,174.86 374.8,173.94 375.3,177.56 375.8,184.26 376.3,170.72 376.8,182.15 377.3,170.25 377.8,176.19 378.3,180.42 378.8,185.93 379.3,169.01 379.8,183.09 380.3,175.64 380.8,176.7 381.3,178.33 381.8,183.94 382.3,186.19 382.8,177.8 383.3,173.58 383.8,172.82 384.3,166.86 384.8,169.48 385.3,180.42 385.8,168.79 386.3,170.75 386.8,173.48 387.3,172.93 387.8,172.17 388.3,171.61 388.8,173.35 389.3,181.9 389.8,178.85 390.3,176.47 390.8,172.98 391.3,176.45 391.8,177.1 392.3,172.37 392.8,171.17 393.3,176.97 393.8,172.85 394.3,172.68 394.8,175.72 395.3,175.53 395.8,171.68 396.3,182.52 396.8,177.1 397.3,175.08 397.8,178.86 398.3,181.6 398.8,175.92 399.3,165.17 399.8,170.73 400.3,175.51 400.8,176.37 401.3,181.69 401.8,177.96 402.3,174.7 402.8,179.3 403.3,173.26 403.8,179.94 404.3,169.42 404.8,182.35 405.3,175.22 405.8,179.46 406.3,174.94 406.8,170.13 407.3,175.01 407.8,176.08 408.3,176.89 408.8,176.41 409.3,177.62 409.8,173.61 410.3,168.9 410.8,174.06 411.3,170.2 411.8,175.11 412.3,174.71 412.8,176.16 413.3,173.72 413.8,178.51 414.3,178.36 414.8,178.8 415.3,177.54 415.8,179.1 416.3,179.86 416.8,176.41 417.3,166.97 417.8,173.45 418.3,182.64 418.8,167.13 419.3,176.54 419.8,173.65 420.3,182.17 420.8,177.75 421.3,175.02 421.8,176.2 422.3,169.27 422.8,184.35 423.3,179.14 423.8,172.47 424.3,173.83 424.8,178.51 425.3,173.41 425.8,172.76 426.3,179.74 426.8,175.74 427.3,177.94 427.8,180.12 428.3,172.95 428.8,182.73 429.3,180.19 429.8,172.09 430.3,171.06 430.8,176.87 431.3,177.69 431.8,173.4 432.3,175.32 432.8,175.47 433.3,174.96 433.8,177.94 434.3,182.71 434.8,184.15 435.3,173.2 435.8,176.27 436.3,174.05 436.8,176.2 437.3,174.84 437.8,182.03 438.3,180.38 438.8,174.13 439.3,182 439.8,173.72 440.3,177.09 440.8,178.9 441.3,175.07 441.8,173.49 442.3,176.69 442.8,176.63 443.3,170.77 443.8,176.56 444.3,170.25 444.8,161.96 445.3,154.04 445.6,150 445.8,150.91 446.3,159.32 446.8,158.89 447.3,149.75 447.6,145.94 447.8,147.34 448.3,154.6 448.8,151.88 449.3,147.87 449.8,138.29 450.3,131.17 450.4,131 450.8,134.58 451.3,146.36 451.8,155.03 452.3,163.52 452.8,162.8 453.3,163.05 453.8,168.72 454.3,164.03 454.8,175.36 455.3,166.92 455.8,178.22 456.3,170.03 456.8,170.11 457.3,166.54 457.8,162.93 458.3,157.5 458.4,157.3 458.8,159.3 459.3,167.44 459.8,166.31 460.3,174.79 460.8,177.2 461.3,170.32 461.8,185.5 462.3,172.44 462.8,168.2 463.3,180.16 463.8,174.51 464.3,170.55 464.8,172.49 465.3,178.41 465.8,179.24 466.3,172.4 466.8,167.35 467.3,163.67 467.8,157.38 468,156.4 468.3,158.48 468.8,166.84 469.3,176.58 469.8,171.57 470.3,172.48 470.8,164.38 471.3,172.25 471.8,165.65 472.3,169.61 472.8,172.95 473.3,170.1 473.8,172.01 474.3,163.31 474.8,170.68 475.3,173.01 475.8,172.29 476.3,173.85 476.8,169.25 477.3,174.8 477.8,169.71 478.3,170.83 478.8,175.91 479.3,177.65 479.8,175.19 480.3,167.19 480.8,170.31 481.3,169.62 481.8,171.89 482.3,177.97 482.8,176.08 483.3,166.49 483.8,172.69 484.3,172.28 484.8,168.49 485.3,169.55 485.8,175.8 486.3,170.38 486.8,170.31 487.3,169.04 487.8,157.11 488.3,171.22 488.8,174.41 489.3,178.93 489.8,180.18 490.3,166.69 490.8,170.78 491.3,168.78 491.8,172.28 492.3,166.9 492.8,172.49 493.3,174.13 493.8,174.16 494.3,173.35 494.8,176 495.3,171.11 495.8,170.39 496.3,171.99 496.8,171.17 497.3,174.04 497.8,176.89 498.3,172.29 498.8,165.91 499.3,166.26 499.8,174.83 500.3,175.8 500.8,175.87 501.3,163.45 501.8,177.59 502.3,185.91 502.8,175.04 503.3,174.58 503.8,180.37 504.3,173.25 504.8,172.27 505.3,181.72 505.8,173.41 506.3,180.34 506.8,175.77 507.3,177.04 507.8,174.97 508.3,181.01 508.8,179.09 509.3,179.03 509.8,178.23 510.3,177.93 510.8,184.9 511.3,183.96 511.8,184.74 512.3,176.29 512.8,182.88 513.3,174.55 513.8,187.83 514.3,188.96 514.8,187.53 515.3,184.02 515.8,184.54 516.3,181.74 516.8,179.27 517.3,186.32 517.8,187.12 518.3,181.35 518.8,177.58 519.3,181.16 519.8,181.84 520.3,180.97 520.8,176.57 521.3,178.37 521.8,184.81 522.3,192.61 522.8,179.49 523.3,186.36 523.8,184.73 524.3,187.73 524.8,187.04 525.3,191.64 525.8,187.67 526.3,185.06 526.8,188.99 527.3,188.95 527.8,192.28 528.3,191.55 528.8,191.98 529.3,190.03 529.8,189.56 530.3,189.43 530.8,191.51 531.3,195.78 531.8,197.13 532.3,188.79 532.8,190.64 533.3,191.51 533.8,199.23 534.3,188.49 534.8,192.51 535.3,182.3 535.8,192.52 536.3,186.56 536.8,189.58 537.3,192.63 537.8,182.62 538.3,178.01 538.8,188.33 539.3,183.39 539.8,187.29 540.3,189.55 540.8,177.4 541.3,170.04 541.6,167.8 541.8,168.36 542.3,174.87 542.8,184.57 543.3,177.7 543.8,174.34 544.3,181.5 544.8,181.46 545.3,170.14 545.8,178.46 546.3,173.94 546.8,171.98 547.3,161.26 547.7,156.36 547.8,155.9 548.3,161.56 548.8,158.96 549.3,153.3 549.8,138.09 550.3,117.25 550.8,109.8 551.3,125.98 551.8,158.37 552.3,179.49 552.8,195.47 553.3,188.48 553.8,191.86 554.3,192.25 554.8,187.99 555.3,191.74 555.8,191.82 556.3,189.14 556.8,196.95 557.3,191.22 557.8,193.96 558.3,187.4 558.8,190.44 559.3,184.27 559.7,181.7 559.8,181.97 560.3,188.18 560.8,188.7 561.3,189.37 561.8,196.29 562.3,189.99 562.8,192.28 563.3,198.77 563.8,198.21 564.3,193.25 564.8,192.96 565.3,194.09 565.8,192.33 566.3,193.24 566.8,198.1 567.3,194.72 567.8,194.11 568.3,192.38 568.8,196.87 569.3,191.18 569.8,195.02 570.3,188.61 570.8,191.68 571.3,194.23 571.8,190.48 572.3,193.91 572.8,192.69 573.3,188.44 573.8,184.45 574,183.6 574.3,184.91 574.8,190.62 575.3,195.63 575.8,188.75 576.3,187.78 576.8,196.25 577.3,188.66 577.8,190.22 578.3,183.49 578.8,191.25 579.3,193.22 579.8,186.5 580.3,193.67 580.8,187.03 581.3,190.5 581.8,196.82 582.3,198.52 582.8,191.58 583.3,197.18 583.8,189.33 584.3,191.94 584.8,181.11 585.3,177.23 585.4,177 585.8,179.43 586.3,186.75 586.8,189.94 587.3,191.37 587.8,193.98 588.3,188.08 588.8,185.85 589,185.5 589.3,186.32 589.8,190.05 590.3,187.25 590.8,195.02 591.3,187.94 591.8,195.47 592.3,195.25 592.8,189.01 593.3,194.55 593.8,197.37 594.3,190.91 594.8,193.6 595.3,188.26 595.8,196.19 596.3,192.75 596.8,198.22 597.3,195.74 597.8,191.92 598.3,188.41 598.8,195.49 599.3,196.5 599.8,190.7 600.3,195.77 600.8,193.69 601.3,190.86 601.8,188.94 602.3,191.58 602.8,195.76 603.3,188.11 603.8,191.37 604.3,191.38 604.8,188.95 605.3,188.26 605.8,194.24 606.3,197.21 606.8,192.2 607.3,188.35 607.8,186.02 608,185.5 608.3,187.44 608.8,190.36 609.3,198.36 609.8,194.25 610.3,201.04 610.8,196.93 611.3,195.69 611.8,197.24 612.3,200.48 612.8,200.43 613.3,202.32 613.8,193.35 614.3,195.88 614.8,197.75 615.3,190.31 615.8,197.1 616.3,200.64 616.8,196.18 617.3,198.73 617.8,196.6 618.3,198.75 618.8,194.84 619.3,203.11 619.8,202.49 620.3,200.17 620.8,206.45 621.3,201.22 621.8,198.85 622.3,191.38 622.8,195.37 623.3,202.06 623.8,204.95 624.3,194.65 624.8,187.26 625.2,181.7 625.3,182.05 625.8,189.94 626.3,196.86 626.8,197.72 627.3,200.89 627.8,195.03 628.3,206.26 628.8,202.53 629.3,192.34 629.8,193.96 630.3,208.48 630.8,196.12 631.3,198.45 631.8,195.04 631.9,195 632.3,195.15 632.8,203.68 633.3,201.71 633.8,198.65 634.3,198.88 634.8,196.46 635.3,191.8 635.8,202.5 636.3,208.09 636.8,199.22 637.3,202.31 637.8,204.1 638.3,194.67 638.8,198.57 639.3,194.22 639.8,203.15 640.3,196.48 640.8,206.64 641.3,204.6 641.8,197.25 642.3,202.84 642.8,201.95 643.3,198.8 643.8,200.6 644.3,201.72 644.8,194.08 645.3,206.02 645.8,198.24 646.3,194.95 646.8,191.03 647.3,171.69 647.8,154.63 648.3,142.17 648.4,141.8 648.8,147.91 649.3,167.55 649.8,183.52 650.3,190.14 650.8,195.21 651.3,199.73 651.8,206.1 652.3,205.56 652.8,202.97 653.3,211.42 653.8,202.59 654.3,206.33 654.8,199.04 655.3,201.02 655.8,203.86 656.3,207.77 656.8,194.35 657.3,208.92 657.8,199.27 658.3,207.77 658.8,202.68 659.3,196.95 659.8,191.55 660.3,185.5 660.8,192.43 661.3,199.72 661.8,197.69 662.3,199.25 662.8,208.77 663.3,209.84 663.8,211.73 664.3,205.74 664.8,201.9 665.3,199.17 665.8,209.44 666.3,201.74 666.8,198.16 667.3,202.28 667.8,203.18 668.3,208.18 668.8,202.97 669.3,209.19 669.8,207.09 670.3,204.48 670.8,194.31 671.3,194.8 671.8,203.94 672.3,206.53 672.8,210.75 673.3,196.81 673.8,206.6 674.3,206.26 674.8,207.9 675.3,204.65 675.8,203.13 676.3,203.74 676.8,205.45 677.3,208.53 677.8,200.46 678.3,201.8 678.8,200.5 679.3,204.08 679.8,193.44 680.3,209.62 680.8,204.39 681.3,199.7 681.8,202.87 682.3,202.33 682.8,201.21 683.3,203.26" fill="none" stroke="#000" stroke-width="1.55" stroke-linejoin="round" />
</g>
<g clip-path="url(#clipbot)">
<polyline points="58.4,399.35 58.9,392.85 59.4,399.35 59.9,399.35 60.4,392.85 60.9,392.85 61.4,392.85 61.9,392.85 62.4,399.35 62.9,399.35 63.4,379.85 63.9,399.35 64.4,386.35 64.9,386.35 65.4,399.35 65.9,392.85 66.4,392.85 66.9,392.85 67.4,392.85 67.9,399.35 68.4,399.35 68.9,392.85 69.4,399.35 69.9,392.85 70.4,392.85 70.9,399.35 71.4,399.35 71.9,399.35 72.4,392.85 72.9,399.35 73.4,399.35 73.9,386.35 74.4,392.85 74.9,399.35 75.4,392.85 75.9,399.35 76.4,392.85 76.9,399.35 77.4,392.85 77.9,386.35 78.4,392.85 78.9,399.35 79.4,379.85 79.9,392.85 80.4,392.85 80.9,392.85 81.4,386.35 81.9,399.35 82.4,392.85 82.9,386.35 83.4,392.85 83.9,399.35 84.4,399.35 84.9,392.85 85.4,392.85 85.9,392.85 86.4,399.35 86.9,379.85 87.4,399.35 87.9,392.85 88.4,392.85 88.9,379.85 89.4,399.35 89.9,399.35 90.4,386.35 90.9,399.35 91.4,392.85 91.9,392.85 92.4,386.35 92.9,386.35 93.4,399.35 93.9,399.35 94.4,399.35 94.9,392.85 95.4,399.35 95.9,392.85 96.4,386.35 96.9,392.85 97.4,392.85 97.9,399.35 98.4,399.35 98.9,399.35 99.4,392.85 99.9,399.35 100.4,392.85 101,392.85 102,399.35 102.5,386.35 103.4,392.85 104.3,399.35 105.2,392.85 106.5,386.35 107.6,392.85 108,389.6" fill="none" stroke="#ee1111" stroke-width="1.3" stroke-linejoin="round" />
<polyline points="108,389.6 108.5,355.8 109.4,391.55 110.3,385.05 111.95,301.2" fill="none" stroke="#ee1111" stroke-width="1.3" stroke-linejoin="round" />
<polyline points="112.15,297 113,287.5 113.85,297" fill="none" stroke="#ee1111" stroke-width="1.3" stroke-linejoin="round" />
<polyline points="114.05,301.2 115.4,391.55 116.4,392.85" fill="none" stroke="#ee1111" stroke-width="1.3" stroke-linejoin="round" />
<polyline points="115.4,391.55 116.4,392.85 116.4,392.85 116.9,399.35 117.4,399.35 117.9,379.85 118.4,392.85 118.9,392.85 119.4,392.85 119.9,392.85 120.4,399.35 120.9,386.35 121.4,399.35 121.9,392.85 122.4,392.85 122.9,392.85 123.4,386.35 123.9,399.35 124.4,392.85 124.9,392.85 125.4,399.35 125.9,379.85 126.4,392.85 126.9,392.85 127.4,399.35 127.9,392.85 128.4,399.35 128.9,392.85 129.4,399.35 129.9,399.35 130.4,399.35 130.9,399.35 131.4,392.85 131.9,392.85 132.4,399.35 132.9,392.85 133.4,399.35 133.9,399.35 134.4,392.85 134.9,392.85 135.4,392.85 135.9,399.35 136.4,399.35 136.9,386.35 137.4,392.85 137.9,386.35 138.4,379.85 138.9,386.35 139.4,392.85 139.9,392.85 140.4,399.35 140.9,379.85 141.4,379.85 141.9,392.85 142.4,392.85 142.9,399.35 143.4,399.35 143.9,399.35 144.4,399.35 144.9,399.35 145.4,392.85 145.9,386.35 146.4,399.35 146.9,392.85 147.4,386.35 147.9,399.35 148.4,392.85 148.9,392.85 149.4,399.35 149.9,399.35 150.4,392.85 150.9,399.35 151.4,392.85 151.9,392.85 152.4,399.35 152.9,399.35 153.4,386.35 153.9,392.85 154.4,399.35 154.9,392.85 155.4,399.35 155.9,386.35 156.4,392.85 156.9,392.85 157.4,379.85 157.9,392.85 158.4,392.85 158.9,386.35 159.4,379.85 159.9,399.35 160.4,386.35 160.9,392.85 161.4,386.35 161.9,392.85 162.4,379.85 162.9,392.85 163.4,399.35 163.9,399.35 164.4,386.35 164.9,392.85 165.4,386.35 165.9,399.35 166.4,392.85 166.9,399.35 167.4,386.35 167.9,392.85 168.4,399.35 168.9,392.85 169.4,386.35 169.9,399.35 170.4,392.85 170.9,386.35 171.4,399.35 171.9,392.85 172.4,399.35 172.9,386.35 173.4,399.35 173.9,399.35 174.4,399.35 174.9,399.35 175.4,379.85 175.9,399.35 176.4,399.35 176.9,392.85 177.4,392.85 177.9,392.85 178.4,392.85 178.9,379.85 179.4,392.85 179.9,392.85 180.4,399.35 180.9,399.35 181.4,386.35 181.9,392.85 182.4,399.35 182.9,392.85 183.4,392.85 183.9,392.85 184.4,392.85 184.9,386.35 185.4,399.35 185.9,399.35 186.4,392.85 186.9,392.85 187.4,379.85 187.9,392.85 188.4,392.85 188.9,379.85 189.4,399.35 189.9,399.35 190.4,392.85 190.9,392.85 191.4,392.85 191.9,399.35 192.4,392.85 192.9,392.85 193.4,399.35 193.9,399.35 194.4,379.85 194.9,399.35 195.4,399.35 195.9,392.85 196.4,392.85 196.9,379.85 197.4,399.35 197.9,392.85 198.4,399.35 198.9,392.85 199.4,379.85 199.9,392.85 200.4,386.35 200.9,399.35 201.4,392.85 201.9,392.85 202.4,399.35 202.9,386.35 203.4,392.85 203.9,399.35 204.4,399.35 204.9,399.35 205.4,392.85 205.9,392.85 206.4,399.35 206.9,379.85 207.4,399.35 207.9,392.85 208.4,392.85 208.9,386.35 209.4,392.85 209.9,392.85 210.4,392.85 210.9,399.35 211.4,379.85 211.9,392.85 212.4,386.35 212.9,386.35 213.4,399.35 213.9,399.35 214.4,399.35 214.9,399.35 215.4,399.35 215.9,386.35 216.4,379.85 216.9,392.85 217.4,392.85 217.9,392.85 218.4,399.35 218.9,392.85 219.4,392.85 219.9,392.85 220.4,392.85 220.9,392.85 221.4,399.35 221.9,399.35 222.4,399.35 222.9,392.85 223.4,392.85 223.9,392.85 224.4,399.35 224.9,399.35 225.4,399.35 225.9,392.85 226.4,392.85 226.9,392.85 227.4,399.35 227.9,399.35 228.4,392.85 228.9,399.35 229.4,392.85 229.9,392.85 230.4,399.35 230.9,386.35 231.4,392.85 231.9,399.35 232.4,399.35 232.9,392.85 233.4,392.85 233.9,392.85 234.4,386.35 234.9,392.85 235.4,399.35 235.9,392.85 236.4,392.85 236.9,399.35 237.4,399.35 237.9,392.85 238.4,399.35 238.9,399.35" fill="none" stroke="#ee1111" stroke-width="1.3" stroke-linejoin="round" />
<polyline points="101.8,399.35 101.8,301.2" fill="none" stroke="#000" stroke-width="1.5" stroke-linejoin="round" />
<polyline points="107.1,399.35 107.1,301.2" fill="none" stroke="#000" stroke-width="1.5" stroke-linejoin="round" />
<polyline points="101.9,296.7 103.2,291.5 104,230 104.4,230 105,290.5 106.9,296.7" fill="none" stroke="#000" stroke-width="1.5" stroke-linejoin="round" />
<path d="M251,399.35V392.85H251.9V399.35H252.8V399.35H253.7V399.35H254.6V399.35H255.5V399.35H256.4V399.35H257.3V399.35H258.2V399.35H259.1V392.85H260V399.35H260.9V399.35H261.8V392.85H262.7V399.35H263.6V399.35H264.5V386.35H265.4V392.85H266.3V392.85H267.2V392.85H268.1V392.85H269V392.85H269.9V392.85H270.8V392.85H271.7V386.35H272.6V392.85H273.5V399.35H274.4V399.35H275.3V399.35H276.2V392.85H277.1V392.85H278V392.85H278.9V392.85H279.8V392.85H280.7V392.85H281.6V392.85H282.5V392.85H283.4V392.85H284.3V392.85H285.2V392.85H286.1V392.85H287V392.85H287.9V399.35H288.8V399.35H289.7V399.35H290.6V399.35H291.5V399.35H292.4V399.35H293.3V399.35H294.2V392.85H295.1V392.85H296V392.85H296.9V386.35H297.8V392.85H298.7V392.85H299.6V392.85H300.5V386.35H301.4V386.35H302.3V392.85H303.2V392.85H304.1V392.85H305V392.85H305.9V392.85H306.8V392.85H307.7V392.85H308.6V399.35H309.5V399.35H310.4V399.35H311.3V399.35H312.2V386.35H313.1V399.35H314V392.85H314.9V386.35H315.8V379.85H316.7V399.35H317.6V386.35H318.5V399.35H319.4V392.85H320.3V392.85H321.2V386.35H322.1V392.85H323V399.35H323.9V399.35H324.8V399.35H325.7V399.35H326.6V386.35H327.5V399.35H328.4V386.35H329.3V399.35H330.2V392.85H331.1V386.35H332V386.35H332.9V399.35H333.8V399.35H334.7V399.35H335.6V392.85H336.5V392.85H337.4V392.85H338.3V392.85H339.2V386.35H340.1V386.35H341V392.85H341.9V392.85H342.8V392.85H343.7V392.85H344.6V392.85H345.5V386.35H346.4V392.85H347.3V399.35H348.2V386.35H349.1V399.35H350V399.35H350.9V392.85H351.8V392.85H352.7V392.85H353.6V399.35H354.5V392.85H355.4V386.35H356.3V392.85H357.2V392.85H358.1V392.85H359V386.35H359.9V392.85H360.8V392.85H361.7V373.35H362.6V399.35H363.5V399.35H364.4V392.85H365.3V392.85H366.2V386.35H367.1V386.35H368V386.35H368.9V392.85H369.8V392.85H370.7V379.85H371.6V392.85H372.5V392.85H373.4V399.35H374.3V399.35H375.2V399.35H376.1V392.85H377V392.85H377.9V379.85H378.8V399.35H379.7V399.35H380.6V392.85H381.5V386.35H382.4V392.85H383.3V392.85H384.2V386.35H385.1V392.85H386V392.85H386.9V386.35H387.8V373.35H388.7V386.35H389.6V399.35H390.5V399.35H391.4V399.35H392.3V392.85H393.2V392.85H394.1V392.85H395V392.85H395.9V392.85H396.8V392.85H397.7V392.85H398.6V379.85H399.5V392.85H400.4V399.35H401.3V399.35H402.2V399.35H403.1V392.85H404V392.85H404.9V399.35H405.8V399.35H406.7V399.35H407.6V392.85H408.5V392.85H409.4V399.35H410.3V399.35H411.2V386.35H412.1V392.85H413V399.35H413.9V399.35H414.8V392.85H415.7V386.35H416.6V392.85H417.5V392.85H418.4V392.85H419.3V379.85H420.2V386.35H421.1V392.85H422V392.85H422.9V392.85H423.8V392.85H424.7V392.85H425.6V392.85H426.5V392.85H427.4V392.85H428.3V392.85H429.2V392.85H430.1V392.85H431V392.85H431.9V392.85H432.8V392.85H433.7V392.85H434.6V392.85H435.5V392.85H436.4V392.85H437.3V392.85H438.2V392.85H439.1V392.85H440V392.85H440.9V379.85H441.8V399.35H442.7V379.85H443.6V392.85H444.5V392.85H445.4V392.85H446.3V392.85H447.2V392.85H448.1V392.85H449V399.35H449.9V399.35H450.8V399.35H451.7V399.35H452.6V399.35H453.5V399.35H454.4V392.85H455.3V392.85H456.2V392.85H457.1V392.85H458V399.35H458.9V399.35H459.8V392.85H460.7V392.85H461.6V392.85H462.5V392.85H463.4V399.35H464.3V399.35H465.2V392.85H466.1V392.85H467V392.85H467.9V392.85H468.8V392.85H469.7V386.35H470.6V386.35H471.5V399.35H472.4V386.35H473.3V392.85H474.2V392.85H475.1V392.85H476V392.85H476.9V392.85H477.8V399.35H478.7V399.35H479.6V386.35H480.5V399.35H481.4V399.35H482.3V399.35H483.2V399.35H484.1V392.85H485V392.85H485.9V392.85H486.8V392.85H487.7V386.35H488.6V392.85H489.5V392.85H490.4V392.85H491.3V399.35H492.2V399.35H493.1V399.35H494V386.35H494.9V392.85H495.8V392.85H496.7V386.35H497.6V392.85H498.5V379.85H499.4V392.85H500.3V386.35H501.2V392.85H502.1V392.85H503V386.35H503.9V392.85H504.8V386.35H505.7V392.85H506.6V399.35H507.5V399.35H508.4V392.85H509.3V392.85H510.2V392.85H511.1V392.85H512V392.85H512.9V399.35H513.8V399.35H514.7V399.35H515.6V399.35H516.5V399.35H517.4V399.35H518.3V392.85H519.2V399.35H520.1V392.85H521V399.35H521.9V399.35H522.8V399.35H523.7V399.35H524.6V399.35H525.5V399.35H526.4V399.35H527.3V399.35H528.2V392.85H529.1V392.85H530V399.35H530.9V399.35H531.8V399.35H532.7V392.85H533.6V399.35H534.5V399.35H535.4V399.35H536.3V392.85H537.2V399.35H538.1V399.35H539V399.35H539.9V392.85H540.8V392.85H541.7V386.35H542.6V399.35H543.5V399.35H544.4V399.35H545.3V399.35H546.2V399.35H547.1V399.35H548V399.35H548.9V399.35H549.8V399.35H550.7V399.35H551.6V399.35H552.5V399.35H553.4V399.35H554.3V399.35H555.2V399.35H556.1V399.35H557V399.35H557.9V392.85H558.8V399.35H559.7V399.35H560.6V399.35H561.5V399.35H562.4V399.35H563.3V399.35H564.2V399.35H565.1V399.35H566V399.35H566.9V399.35H567.8V399.35H568.7V399.35H569.6V399.35H570.5V399.35H571.4V399.35H572.3V399.35H573.2V399.35H574.1V399.35H575V399.35H575.9V399.35H576.8V399.35H577.7V399.35H578.6V399.35H579.5V399.35H580.4V399.35H581.3V399.35H582.2V399.35H583.1V399.35H584V399.35H584.9V399.35H585.8V399.35H586.7V399.35H587.6V399.35H588.5V399.35H589.4V399.35H590.3V399.35H591.2V399.35H592.1V399.35H593V399.35H593.9V399.35H594.8V399.35H595.7V399.35H596.6V399.35H597.5V386.35H598.4V399.35H599.3V399.35H600.2V399.35H601.1V399.35H602V399.35H602.9V399.35H603.8V399.35H604.7V399.35H605.6V399.35H606.5V399.35H607.4V399.35H608.3V399.35H609.2V399.35H610.1V399.35H611V399.35H611.9V399.35H612.8V399.35H613.7V399.35H614.6V399.35H615.5V399.35H616.4V399.35H617.3V399.35H618.2V399.35H619.1V399.35H620V399.35H620.9V399.35H621.8V399.35H622.7V399.35H623.6V399.35H624.5V399.35H625.4V399.35H626.3V399.35H627.2V399.35H628.1V399.35H629V399.35H629.9V399.35H630.8V399.35H631.7V399.35H632.6V399.35H633.5V399.35H634.4V399.35H635.3V399.35H636.2V399.35H637.1V399.35H638V399.35H638.9V399.35H639.8V399.35H640.7V399.35H641.6V399.35H642.5V399.35H643.4V399.35H644.3V399.35H645.2V399.35H646.1V399.35H647V399.35H647.9V399.35H648.8V399.35H649.7V399.35H650.6V399.35H651.5V399.35H652.4V399.35H653.3V399.35H654.2V399.35H655.1V399.35H656V399.35H656.9V399.35H657.8V399.35H658.7V399.35H659.6V399.35H660.5V399.35H661.4V399.35H662.3V399.35H663.2V399.35H664.1V399.35H665V399.35H665.9V399.35H666.8V399.35H667.7V399.35H668.6V399.35H669.5V399.35H670.4V399.35H671.3V399.35H672.2V399.35H673.1V399.35H674V392.85H674.9V399.35H675.8V399.35H676.7V399.35H677.6V399.35H678.5V399.35H679.4V399.35H680.3V399.35H681.2V399.35H682.1V399.35H683V399.35H683.9V399.35Z" fill="#ee1111" stroke="#ee1111" stroke-width="0.9"/>
<polyline points="448,392.85 448.9,385.05 449.6,370.75 450.3,366.85 451,372.7 451.8,373.35 452.5,389.6 453.2,399.35 454,392.85" fill="none" stroke="#ee1111" stroke-width="1.3" stroke-linejoin="round" />
<polyline points="546.3,399.35 547.3,395.45 548.2,385.05 548.9,364.25 549.8,362.95 550.4,377.25 551,334.35 551.9,334.35 552.5,370.1 553.4,399.35" fill="none" stroke="#ee1111" stroke-width="1.35" stroke-linejoin="round" />
</g>
<text transform="translate(16,265.7) rotate(-90)" font-family='"Liberation Serif", "Times New Roman", serif' font-size="16" fill="#000" font-weight="bold" textLength="139.2" lengthAdjust="spacingAndGlyphs" ><tspan font-weight="normal">γ</tspan> - ray yield /100 <tspan font-weight="normal">μ</tspan>C</text>
<text x="291" y="438.3" font-family='"Liberation Serif", "Times New Roman", serif' font-size="16.5" fill="#000" font-weight="bold" textLength="144" lengthAdjust="spacingAndGlyphs" ><tspan font-weight="normal">γ</tspan> - ray energy (keV)</text>
<text x="356.6" y="25.7" font-family='"Liberation Serif", "Times New Roman", serif' font-size="15.3" fill="#1222da" font-weight="bold" textLength="81.4" lengthAdjust="spacingAndGlyphs" >Raw spectra</text>
<text transform="translate(96.5,60.4) rotate(-90)" font-family='"Liberation Serif", "Times New Roman", serif' font-size="15" fill="#1222da" font-weight="bold" textLength="52.1" lengthAdjust="spacingAndGlyphs" >491 keV</text>
<text transform="translate(129.3,61.3) rotate(-90)" font-family='"Liberation Serif", "Times New Roman", serif' font-size="15" fill="#1222da" font-weight="bold" textLength="51.3" lengthAdjust="spacingAndGlyphs" >511 keV</text>
<text transform="translate(356.7,132) rotate(-90)" font-family='"Liberation Serif", "Times New Roman", serif' font-size="14" fill="#1222da" font-weight="bold" textLength="50" lengthAdjust="spacingAndGlyphs" >DEP@II</text>
<text transform="translate(446.3,139.6) rotate(-90)" font-family='"Liberation Serif", "Times New Roman", serif' font-size="14" fill="#1222da" font-weight="bold" textLength="43.8" lengthAdjust="spacingAndGlyphs" >DEP@I</text>
<text transform="translate(464.9,128.7) rotate(-90)" font-family='"Liberation Serif", "Times New Roman", serif' font-size="14" fill="#1222da" font-weight="bold" textLength="47.7" lengthAdjust="spacingAndGlyphs" >SEP@II</text>
<text transform="translate(547.6,143.1) rotate(-90)" font-family='"Liberation Serif", "Times New Roman", serif' font-size="14" fill="#1222da" font-weight="bold" textLength="42.9" lengthAdjust="spacingAndGlyphs" >SEP@I</text>
<text transform="translate(565.9,125.5) rotate(-90)" font-family='"Liberation Serif", "Times New Roman", serif' font-size="14.5" fill="#1222da" font-weight="bold" textLength="68.2" lengthAdjust="spacingAndGlyphs" >4327 keV II</text>
<text transform="translate(654.3,127.2) rotate(-90)" font-family='"Liberation Serif", "Times New Roman", serif' font-size="14.5" fill="#1222da" font-weight="bold" textLength="61.9" lengthAdjust="spacingAndGlyphs" >4818 keV I</text>
<text x="637.2" y="26.2" font-family='"Liberation Serif", "Times New Roman", serif' font-size="16" fill="#000" font-weight="bold" textLength="22" lengthAdjust="spacingAndGlyphs" >(b)</text>
<rect x="487.2" y="1.6" width="118.4" height="39.2" fill="#fff" stroke="#8c8c8c" stroke-width="1"/>
<line x1="489" y1="12.3" x2="528.4" y2="12.3" stroke="#ee1111" stroke-width="1.3" />
<line x1="489" y1="31.9" x2="528.4" y2="31.9" stroke="#111" stroke-width="1.3" />
<text x="533.1" y="18.1" font-family='"Liberation Serif", "Times New Roman", serif' font-size="16.5" fill="#000" font-weight="normal" textLength="70.6" lengthAdjust="spacingAndGlyphs" >Detector 2</text>
<text x="533.1" y="37.2" font-family='"Liberation Serif", "Times New Roman", serif' font-size="16.5" fill="#000" font-weight="normal" textLength="70.6" lengthAdjust="spacingAndGlyphs" >Detector 1</text>
<text x="302.8" y="246.5" font-family='"Liberation Serif", "Times New Roman", serif' font-size="15.5" fill="#1222da" font-weight="bold" textLength="133.2" lengthAdjust="spacingAndGlyphs" >Coincidence spectra</text>
<rect x="511.6" y="224.2" width="117.8" height="39.4" fill="#fff" stroke="#8c8c8c" stroke-width="1"/>
<line x1="513.3" y1="234.4" x2="552.7" y2="234.4" stroke="#ee1111" stroke-width="1.3" />
<line x1="513.3" y1="253.4" x2="552.7" y2="253.4" stroke="#111" stroke-width="1.3" />
<text x="557.6" y="239.9" font-family='"Liberation Serif", "Times New Roman", serif' font-size="16.5" fill="#000" font-weight="normal" textLength="70.7" lengthAdjust="spacingAndGlyphs" >Detector 2</text>
<text x="557.6" y="259.6" font-family='"Liberation Serif", "Times New Roman", serif' font-size="16.5" fill="#000" font-weight="normal" textLength="70.7" lengthAdjust="spacingAndGlyphs" >Detector 1</text>
<text transform="translate(100.8,289.6) rotate(-90)" font-family='"Liberation Serif", "Times New Roman", serif' font-size="15" fill="#1222da" font-weight="bold" textLength="49.6" lengthAdjust="spacingAndGlyphs" >491 keV</text>
<text transform="translate(127.8,292.7) rotate(-90)" font-family='"Liberation Serif", "Times New Roman", serif' font-size="15" fill="#1222da" font-weight="bold" textLength="51.6" lengthAdjust="spacingAndGlyphs" >511 keV</text>
<text transform="translate(356.3,375.3) rotate(-90)" font-family='"Liberation Serif", "Times New Roman", serif' font-size="14" fill="#1222da" font-weight="bold" textLength="28.3" lengthAdjust="spacingAndGlyphs" >DEP</text>
<text transform="translate(458.6,365.1) rotate(-90)" font-family='"Liberation Serif", "Times New Roman", serif' font-size="14" fill="#1222da" font-weight="bold" textLength="27.9" lengthAdjust="spacingAndGlyphs" >SEP</text>
<text x="498.1" y="359.4" font-family='"Liberation Serif", "Times New Roman", serif' font-size="13" fill="#1222da" font-weight="bold" text-anchor="middle" textLength="48" lengthAdjust="spacingAndGlyphs" >Compton</text>
<text x="465" y="372.3" font-family='"Liberation Serif", "Times New Roman", serif' font-size="13" fill="#1222da" font-weight="bold" textLength="66.2" lengthAdjust="spacingAndGlyphs" >background</text>
<text transform="translate(567.7,345.1) rotate(-90)" font-family='"Liberation Serif", "Times New Roman", serif' font-size="14.5" fill="#1222da" font-weight="bold" textLength="59.7" lengthAdjust="spacingAndGlyphs" >4328 keV</text>
<rect x="59.2" y="456.6" width="622.9" height="418.6" fill="#fff" stroke="none"/>
<line x1="59" y1="456" x2="59" y2="876" stroke="#8a8a8a" stroke-width="2" />
<line x1="58.5" y1="456.6" x2="682.8" y2="456.6" stroke="#454545" stroke-width="1.3" />
<line x1="682.3" y1="456" x2="682.3" y2="876" stroke="#585858" stroke-width="1.6" />
<line x1="58" y1="875.4" x2="683" y2="875.4" stroke="#6e6e6e" stroke-width="1.6" />
<rect x="58" y="876.2" width="626" height="0.8" fill="#b0b0b0"/>
<rect x="124.4" y="611.5" width="12.07" height="35.6" fill="#073f99" shape-rendering="crispEdges"/>
<rect x="136.02" y="611.5" width="12.07" height="35.6" fill="#0f7bc5" shape-rendering="crispEdges"/>
<rect x="147.64" y="611.5" width="12.07" height="35.6" fill="#1fb3c8" shape-rendering="crispEdges"/>
<rect x="159.26" y="611.5" width="12.07" height="35.6" fill="#0f7bc5" shape-rendering="crispEdges"/>
<rect x="170.88" y="611.5" width="23.69" height="35.6" fill="#073f99" shape-rendering="crispEdges"/>
<rect x="194.12" y="611.5" width="12.07" height="35.6" fill="#0f7bc5" shape-rendering="crispEdges"/>
<rect x="205.74" y="611.5" width="12.07" height="35.6" fill="#042685" shape-rendering="crispEdges"/>
<rect x="217.36" y="611.5" width="12.07" height="35.6" fill="#1797c7" shape-rendering="crispEdges"/>
<rect x="228.98" y="611.5" width="23.69" height="35.6" fill="#073f99" shape-rendering="crispEdges"/>
<rect x="252.22" y="611.5" width="12.07" height="35.6" fill="#0f7bc5" shape-rendering="crispEdges"/>
<rect x="263.84" y="611.5" width="12.07" height="35.6" fill="#c6c914" shape-rendering="crispEdges"/>
<rect x="275.46" y="611.5" width="12.07" height="35.6" fill="#1797c7" shape-rendering="crispEdges"/>
<rect x="287.08" y="611.5" width="12.07" height="35.6" fill="#4bc887" shape-rendering="crispEdges"/>
<rect x="298.7" y="611.5" width="23.69" height="35.6" fill="#2fc3b5" shape-rendering="crispEdges"/>
<rect x="321.94" y="611.5" width="23.69" height="35.6" fill="#1797c7" shape-rendering="crispEdges"/>
<rect x="345.18" y="611.5" width="12.07" height="35.6" fill="#c6c914" shape-rendering="crispEdges"/>
<rect x="356.8" y="611.5" width="12.07" height="35.6" fill="#cc410b" shape-rendering="crispEdges"/>
<rect x="368.42" y="611.5" width="12.07" height="35.6" fill="#4bc887" shape-rendering="crispEdges"/>
<rect x="380.04" y="611.5" width="12.07" height="35.6" fill="#c6c914" shape-rendering="crispEdges"/>
<rect x="391.66" y="611.5" width="12.07" height="35.6" fill="#8cd63e" shape-rendering="crispEdges"/>
<rect x="403.28" y="611.5" width="12.07" height="35.6" fill="#b0de24" shape-rendering="crispEdges"/>
<rect x="414.9" y="611.5" width="12.07" height="35.6" fill="#1fb3c8" shape-rendering="crispEdges"/>
<rect x="426.52" y="611.5" width="12.07" height="35.6" fill="#4bc887" shape-rendering="crispEdges"/>
<rect x="438.14" y="611.5" width="12.07" height="35.6" fill="#042685" shape-rendering="crispEdges"/>
<rect x="449.76" y="611.5" width="12.07" height="35.6" fill="#4bc887" shape-rendering="crispEdges"/>
<rect x="461.38" y="611.5" width="11.62" height="35.6" fill="#6e0002" shape-rendering="crispEdges"/>
<rect x="484.62" y="611.5" width="11.62" height="35.6" fill="#021273" shape-rendering="crispEdges"/>
<rect x="519.48" y="611.5" width="11.62" height="35.6" fill="#021273" shape-rendering="crispEdges"/>
<line x1="209.4" y1="469.6" x2="209.4" y2="826" stroke="#5a5a5a" stroke-width="0.4" stroke-dasharray="2,1.1"/>
<line x1="305.1" y1="469.6" x2="305.1" y2="826" stroke="#5a5a5a" stroke-width="0.4" stroke-dasharray="2,1.1"/>
<line x1="400.8" y1="469.6" x2="400.8" y2="826" stroke="#5a5a5a" stroke-width="0.4" stroke-dasharray="2,1.1"/>
<line x1="496.5" y1="469.6" x2="496.5" y2="826" stroke="#5a5a5a" stroke-width="0.4" stroke-dasharray="2,1.1"/>
<line x1="592.2" y1="469.6" x2="592.2" y2="826" stroke="#5a5a5a" stroke-width="0.4" stroke-dasharray="2,1.1"/>
<line x1="124.4" y1="805.5" x2="600.3" y2="805.5" stroke="#5a5a5a" stroke-width="0.32" />
<line x1="124.4" y1="743.12" x2="600.3" y2="743.12" stroke="#5a5a5a" stroke-width="0.32" />
<line x1="124.4" y1="680.74" x2="600.3" y2="680.74" stroke="#5a5a5a" stroke-width="0.32" />
<line x1="124.4" y1="618.36" x2="600.3" y2="618.36" stroke="#5a5a5a" stroke-width="0.32" />
<line x1="124.4" y1="555.98" x2="600.3" y2="555.98" stroke="#5a5a5a" stroke-width="0.32" />
<line x1="124.4" y1="493.6" x2="600.3" y2="493.6" stroke="#5a5a5a" stroke-width="0.32" />
<rect x="124.4" y="469.6" width="475.9" height="356.4" fill="none" stroke="#5c5c5c" stroke-width="1.1"/>
<line x1="124.4" y1="817.98" x2="132.7" y2="817.98" stroke="#6a6a6a" stroke-width="1.15" />
<line x1="124.4" y1="805.5" x2="140.4" y2="805.5" stroke="#3a3a3a" stroke-width="1" />
<text x="121.6" y="810.5" font-family='"Liberation Sans", Arial, sans-serif' font-size="13" fill="#111" font-weight="normal" text-anchor="end" textLength="15.2" lengthAdjust="spacingAndGlyphs" stroke="#111" stroke-width="0.25">200</text>
<line x1="124.4" y1="793.02" x2="132.7" y2="793.02" stroke="#6a6a6a" stroke-width="1.15" />
<line x1="124.4" y1="780.55" x2="132.7" y2="780.55" stroke="#6a6a6a" stroke-width="1.15" />
<line x1="124.4" y1="768.07" x2="132.7" y2="768.07" stroke="#6a6a6a" stroke-width="1.15" />
<line x1="124.4" y1="755.6" x2="132.7" y2="755.6" stroke="#6a6a6a" stroke-width="1.15" />
<line x1="124.4" y1="743.12" x2="140.4" y2="743.12" stroke="#3a3a3a" stroke-width="1" />
<text x="121.6" y="748.12" font-family='"Liberation Sans", Arial, sans-serif' font-size="13" fill="#111" font-weight="normal" text-anchor="end" textLength="15.2" lengthAdjust="spacingAndGlyphs" stroke="#111" stroke-width="0.25">300</text>
<line x1="124.4" y1="730.64" x2="132.7" y2="730.64" stroke="#6a6a6a" stroke-width="1.15" />
<line x1="124.4" y1="718.17" x2="132.7" y2="718.17" stroke="#6a6a6a" stroke-width="1.15" />
<line x1="124.4" y1="705.69" x2="132.7" y2="705.69" stroke="#6a6a6a" stroke-width="1.15" />
<line x1="124.4" y1="693.22" x2="132.7" y2="693.22" stroke="#6a6a6a" stroke-width="1.15" />
<line x1="124.4" y1="680.74" x2="140.4" y2="680.74" stroke="#3a3a3a" stroke-width="1" />
<text x="121.6" y="685.74" font-family='"Liberation Sans", Arial, sans-serif' font-size="13" fill="#111" font-weight="normal" text-anchor="end" textLength="15.2" lengthAdjust="spacingAndGlyphs" stroke="#111" stroke-width="0.25">400</text>
<line x1="124.4" y1="668.26" x2="132.7" y2="668.26" stroke="#6a6a6a" stroke-width="1.15" />
<line x1="124.4" y1="655.79" x2="132.7" y2="655.79" stroke="#6a6a6a" stroke-width="1.15" />
<line x1="124.4" y1="643.31" x2="132.7" y2="643.31" stroke="#6a6a6a" stroke-width="1.15" />
<line x1="124.4" y1="630.84" x2="132.7" y2="630.84" stroke="#6a6a6a" stroke-width="1.15" />
<line x1="124.4" y1="618.36" x2="140.4" y2="618.36" stroke="#3a3a3a" stroke-width="1" />
<text x="121.6" y="623.36" font-family='"Liberation Sans", Arial, sans-serif' font-size="13" fill="#111" font-weight="normal" text-anchor="end" textLength="15.2" lengthAdjust="spacingAndGlyphs" stroke="#111" stroke-width="0.25">500</text>
<line x1="124.4" y1="605.88" x2="132.7" y2="605.88" stroke="#6a6a6a" stroke-width="1.15" />
<line x1="124.4" y1="593.41" x2="132.7" y2="593.41" stroke="#6a6a6a" stroke-width="1.15" />
<line x1="124.4" y1="580.93" x2="132.7" y2="580.93" stroke="#6a6a6a" stroke-width="1.15" />
<line x1="124.4" y1="568.46" x2="132.7" y2="568.46" stroke="#6a6a6a" stroke-width="1.15" />
<line x1="124.4" y1="555.98" x2="140.4" y2="555.98" stroke="#3a3a3a" stroke-width="1" />
<text x="121.6" y="560.98" font-family='"Liberation Sans", Arial, sans-serif' font-size="13" fill="#111" font-weight="normal" text-anchor="end" textLength="15.2" lengthAdjust="spacingAndGlyphs" stroke="#111" stroke-width="0.25">600</text>
<line x1="124.4" y1="543.5" x2="132.7" y2="543.5" stroke="#6a6a6a" stroke-width="1.15" />
<line x1="124.4" y1="531.03" x2="132.7" y2="531.03" stroke="#6a6a6a" stroke-width="1.15" />
<line x1="124.4" y1="518.55" x2="132.7" y2="518.55" stroke="#6a6a6a" stroke-width="1.15" />
<line x1="124.4" y1="506.08" x2="132.7" y2="506.08" stroke="#6a6a6a" stroke-width="1.15" />
<line x1="124.4" y1="493.6" x2="140.4" y2="493.6" stroke="#3a3a3a" stroke-width="1" />
<text x="121.6" y="498.6" font-family='"Liberation Sans", Arial, sans-serif' font-size="13" fill="#111" font-weight="normal" text-anchor="end" textLength="15.2" lengthAdjust="spacingAndGlyphs" stroke="#111" stroke-width="0.25">700</text>
<line x1="124.4" y1="481.12" x2="132.7" y2="481.12" stroke="#6a6a6a" stroke-width="1.15" />
<line x1="132.84" y1="826" x2="132.84" y2="820.5" stroke="#6a6a6a" stroke-width="1.1" />
<line x1="151.98" y1="826" x2="151.98" y2="820.5" stroke="#6a6a6a" stroke-width="1.1" />
<line x1="171.12" y1="826" x2="171.12" y2="820.5" stroke="#6a6a6a" stroke-width="1.1" />
<line x1="190.26" y1="826" x2="190.26" y2="820.5" stroke="#6a6a6a" stroke-width="1.1" />
<line x1="209.4" y1="826" x2="209.4" y2="814" stroke="#555" stroke-width="1" />
<text x="209.4" y="839.8" font-family='"Liberation Sans", Arial, sans-serif' font-size="13" fill="#111" font-weight="normal" text-anchor="middle" textLength="20.1" lengthAdjust="spacingAndGlyphs" stroke="#111" stroke-width="0.25">3000</text>
<line x1="228.54" y1="826" x2="228.54" y2="820.5" stroke="#6a6a6a" stroke-width="1.1" />
<line x1="247.68" y1="826" x2="247.68" y2="820.5" stroke="#6a6a6a" stroke-width="1.1" />
<line x1="266.82" y1="826" x2="266.82" y2="820.5" stroke="#6a6a6a" stroke-width="1.1" />
<line x1="285.96" y1="826" x2="285.96" y2="820.5" stroke="#6a6a6a" stroke-width="1.1" />
<line x1="305.1" y1="826" x2="305.1" y2="814" stroke="#555" stroke-width="1" />
<text x="305.1" y="839.8" font-family='"Liberation Sans", Arial, sans-serif' font-size="13" fill="#111" font-weight="normal" text-anchor="middle" textLength="20.1" lengthAdjust="spacingAndGlyphs" stroke="#111" stroke-width="0.25">3500</text>
<line x1="324.24" y1="826" x2="324.24" y2="820.5" stroke="#6a6a6a" stroke-width="1.1" />
<line x1="343.38" y1="826" x2="343.38" y2="820.5" stroke="#6a6a6a" stroke-width="1.1" />
<line x1="362.52" y1="826" x2="362.52" y2="820.5" stroke="#6a6a6a" stroke-width="1.1" />
<line x1="381.66" y1="826" x2="381.66" y2="820.5" stroke="#6a6a6a" stroke-width="1.1" />
<line x1="400.8" y1="826" x2="400.8" y2="814" stroke="#555" stroke-width="1" />
<text x="400.8" y="839.8" font-family='"Liberation Sans", Arial, sans-serif' font-size="13" fill="#111" font-weight="normal" text-anchor="middle" textLength="20.1" lengthAdjust="spacingAndGlyphs" stroke="#111" stroke-width="0.25">4000</text>
<line x1="419.94" y1="826" x2="419.94" y2="820.5" stroke="#6a6a6a" stroke-width="1.1" />
<line x1="439.08" y1="826" x2="439.08" y2="820.5" stroke="#6a6a6a" stroke-width="1.1" />
<line x1="458.22" y1="826" x2="458.22" y2="820.5" stroke="#6a6a6a" stroke-width="1.1" />
<line x1="477.36" y1="826" x2="477.36" y2="820.5" stroke="#6a6a6a" stroke-width="1.1" />
<line x1="496.5" y1="826" x2="496.5" y2="814" stroke="#555" stroke-width="1" />
<text x="496.5" y="839.8" font-family='"Liberation Sans", Arial, sans-serif' font-size="13" fill="#111" font-weight="normal" text-anchor="middle" textLength="20.1" lengthAdjust="spacingAndGlyphs" stroke="#111" stroke-width="0.25">4500</text>
<line x1="515.64" y1="826" x2="515.64" y2="820.5" stroke="#6a6a6a" stroke-width="1.1" />
<line x1="534.78" y1="826" x2="534.78" y2="820.5" stroke="#6a6a6a" stroke-width="1.1" />
<line x1="553.92" y1="826" x2="553.92" y2="820.5" stroke="#6a6a6a" stroke-width="1.1" />
<line x1="573.06" y1="826" x2="573.06" y2="820.5" stroke="#6a6a6a" stroke-width="1.1" />
<line x1="592.2" y1="826" x2="592.2" y2="814" stroke="#555" stroke-width="1" />
<text x="592.2" y="839.8" font-family='"Liberation Sans", Arial, sans-serif' font-size="13" fill="#111" font-weight="normal" text-anchor="middle" textLength="20.1" lengthAdjust="spacingAndGlyphs" stroke="#111" stroke-width="0.25">5000</text>
<rect x="603.9" y="807.87" width="28.4" height="18.44" fill="#021273" shape-rendering="crispEdges"/>
<rect x="603.9" y="790.03" width="28.4" height="18.44" fill="#042685" shape-rendering="crispEdges"/>
<rect x="603.9" y="772.2" width="28.4" height="18.44" fill="#073f99" shape-rendering="crispEdges"/>
<rect x="603.9" y="754.36" width="28.4" height="18.44" fill="#0b5cae" shape-rendering="crispEdges"/>
<rect x="603.9" y="736.53" width="28.4" height="18.44" fill="#0f7bc5" shape-rendering="crispEdges"/>
<rect x="603.9" y="718.69" width="28.4" height="18.44" fill="#1797c7" shape-rendering="crispEdges"/>
<rect x="603.9" y="700.86" width="28.4" height="18.44" fill="#1fb3c8" shape-rendering="crispEdges"/>
<rect x="603.9" y="683.02" width="28.4" height="18.44" fill="#2fc3b5" shape-rendering="crispEdges"/>
<rect x="603.9" y="665.19" width="28.4" height="18.44" fill="#4bc887" shape-rendering="crispEdges"/>
<rect x="603.9" y="647.35" width="28.4" height="18.44" fill="#66ce5a" shape-rendering="crispEdges"/>
<rect x="603.9" y="629.52" width="28.4" height="18.44" fill="#8cd63e" shape-rendering="crispEdges"/>
<rect x="603.9" y="611.68" width="28.4" height="18.44" fill="#b0de24" shape-rendering="crispEdges"/>
<rect x="603.9" y="593.85" width="28.4" height="18.44" fill="#c6c914" shape-rendering="crispEdges"/>
<rect x="603.9" y="576.01" width="28.4" height="18.44" fill="#cb9411" shape-rendering="crispEdges"/>
<rect x="603.9" y="558.17" width="28.4" height="18.44" fill="#d0600d" shape-rendering="crispEdges"/>
<rect x="603.9" y="540.34" width="28.4" height="18.44" fill="#cc410b" shape-rendering="crispEdges"/>
<rect x="603.9" y="522.51" width="28.4" height="18.44" fill="#c92009" shape-rendering="crispEdges"/>
<rect x="603.9" y="504.67" width="28.4" height="18.44" fill="#b40d07" shape-rendering="crispEdges"/>
<rect x="603.9" y="486.84" width="28.4" height="18.44" fill="#900604" shape-rendering="crispEdges"/>
<rect x="603.9" y="469" width="28.4" height="18.44" fill="#6e0002" shape-rendering="crispEdges"/>
<line x1="616.1" y1="773.25" x2="632.3" y2="773.25" stroke="#333" stroke-width="0.9" />
<line x1="616.1" y1="720.8" x2="632.3" y2="720.8" stroke="#333" stroke-width="0.9" />
<line x1="616.1" y1="668.35" x2="632.3" y2="668.35" stroke="#333" stroke-width="0.9" />
<line x1="616.1" y1="615.9" x2="632.3" y2="615.9" stroke="#333" stroke-width="0.9" />
<line x1="616.1" y1="563.45" x2="632.3" y2="563.45" stroke="#333" stroke-width="0.9" />
<line x1="616.1" y1="511" x2="632.3" y2="511" stroke="#333" stroke-width="0.9" />
<text x="635.1" y="829.1" font-family='"Liberation Sans", Arial, sans-serif' font-size="9.5" fill="#111" font-weight="normal" textLength="3.6" lengthAdjust="spacingAndGlyphs" stroke="#111" stroke-width="0.2">0</text>
<text x="635.1" y="776.65" font-family='"Liberation Sans", Arial, sans-serif' font-size="9.5" fill="#111" font-weight="normal" textLength="3.6" lengthAdjust="spacingAndGlyphs" stroke="#111" stroke-width="0.2">5</text>
<text x="635.1" y="724.2" font-family='"Liberation Sans", Arial, sans-serif' font-size="9.5" fill="#111" font-weight="normal" textLength="7.2" lengthAdjust="spacingAndGlyphs" stroke="#111" stroke-width="0.2">10</text>
<text x="635.1" y="671.75" font-family='"Liberation Sans", Arial, sans-serif' font-size="9.5" fill="#111" font-weight="normal" textLength="7.2" lengthAdjust="spacingAndGlyphs" stroke="#111" stroke-width="0.2">15</text>
<text x="635.1" y="619.3" font-family='"Liberation Sans", Arial, sans-serif' font-size="9.5" fill="#111" font-weight="normal" textLength="7.2" lengthAdjust="spacingAndGlyphs" stroke="#111" stroke-width="0.2">20</text>
<text x="635.1" y="566.85" font-family='"Liberation Sans", Arial, sans-serif' font-size="9.5" fill="#111" font-weight="normal" textLength="7.2" lengthAdjust="spacingAndGlyphs" stroke="#111" stroke-width="0.2">25</text>
<text x="635.1" y="514.4" font-family='"Liberation Sans", Arial, sans-serif' font-size="9.5" fill="#111" font-weight="normal" textLength="7.2" lengthAdjust="spacingAndGlyphs" stroke="#111" stroke-width="0.2">30</text>
<rect x="473.4" y="468.9" width="127.1" height="40.8" fill="#fff" stroke="#333" stroke-width="0.8"/>
<line x1="473.4" y1="477.3" x2="600.5" y2="477.3" stroke="#333" stroke-width="0.8" />
<line x1="473.4" y1="485.2" x2="600.5" y2="485.2" stroke="#333" stroke-width="0.8" />
<line x1="473.4" y1="493.5" x2="600.5" y2="493.5" stroke="#333" stroke-width="0.8" />
<line x1="473.4" y1="501.8" x2="600.5" y2="501.8" stroke="#333" stroke-width="0.8" />
<line x1="515.7" y1="485.2" x2="515.7" y2="509.7" stroke="#333" stroke-width="0.8" />
<line x1="558.3" y1="485.2" x2="558.3" y2="509.7" stroke="#333" stroke-width="0.8" />
<text x="537" y="475.9" font-family='"Liberation Sans", Arial, sans-serif' font-size="7" fill="#14143c" font-weight="bold" text-anchor="middle" textLength="113" lengthAdjust="spacingAndGlyphs" >[F]EvsE CH2@DT5781_30895_CH1@DT5781_30895</text>
<text x="479.8" y="484" font-family='"Liberation Sans", Arial, sans-serif' font-size="7.2" fill="#14143c" font-weight="normal" textLength="15.5" lengthAdjust="spacingAndGlyphs" >Entries</text>
<text x="593.8" y="484" font-family='"Liberation Sans", Arial, sans-serif' font-size="7.2" fill="#14143c" font-weight="normal" text-anchor="end" textLength="8" lengthAdjust="spacingAndGlyphs" >825</text>
<text x="494.6" y="492.2" font-family='"Liberation Sans", Arial, sans-serif' font-size="7.2" fill="#14143c" font-weight="normal" text-anchor="middle" textLength="2.7" lengthAdjust="spacingAndGlyphs" >0</text>
<text x="537" y="492.2" font-family='"Liberation Sans", Arial, sans-serif' font-size="7.2" fill="#14143c" font-weight="normal" text-anchor="middle" textLength="2.7" lengthAdjust="spacingAndGlyphs" >0</text>
<text x="579.4" y="492.2" font-family='"Liberation Sans", Arial, sans-serif' font-size="7.2" fill="#14143c" font-weight="normal" text-anchor="middle" textLength="2.7" lengthAdjust="spacingAndGlyphs" >0</text>
<text x="494.6" y="500.4" font-family='"Liberation Sans", Arial, sans-serif' font-size="7.2" fill="#14143c" font-weight="normal" text-anchor="middle" textLength="2.7" lengthAdjust="spacingAndGlyphs" >0</text>
<text x="537" y="500.4" font-family='"Liberation Sans", Arial, sans-serif' font-size="7.2" fill="#14143c" font-weight="normal" text-anchor="middle" textLength="8.1" lengthAdjust="spacingAndGlyphs" >825</text>
<text x="579.4" y="500.4" font-family='"Liberation Sans", Arial, sans-serif' font-size="7.2" fill="#14143c" font-weight="normal" text-anchor="middle" textLength="2.7" lengthAdjust="spacingAndGlyphs" >0</text>
<text x="494.6" y="508.4" font-family='"Liberation Sans", Arial, sans-serif' font-size="7.2" fill="#14143c" font-weight="normal" text-anchor="middle" textLength="2.7" lengthAdjust="spacingAndGlyphs" >0</text>
<text x="537" y="508.4" font-family='"Liberation Sans", Arial, sans-serif' font-size="7.2" fill="#14143c" font-weight="normal" text-anchor="middle" textLength="2.7" lengthAdjust="spacingAndGlyphs" >0</text>
<text x="579.4" y="508.4" font-family='"Liberation Sans", Arial, sans-serif' font-size="7.2" fill="#14143c" font-weight="normal" text-anchor="middle" textLength="2.7" lengthAdjust="spacingAndGlyphs" >0</text>
<text x="250.5" y="489.3" font-family='"Liberation Serif", "Times New Roman", serif' font-size="16.5" fill="#1222da" font-weight="bold" textLength="161.2" lengthAdjust="spacingAndGlyphs" >Correlation time: <tspan fill="#dc1a30">310 ns</tspan></text>
<text x="251.6" y="513.8" font-family='"Liberation Serif", "Times New Roman", serif' font-size="16.5" fill="#1222da" font-weight="bold" textLength="161.1" lengthAdjust="spacingAndGlyphs" >Correlation Entries: <tspan fill="#dc1a30">825</tspan></text>
<path d="M416.3,507.9 L442.5,500.8 L442.5,504.3 L467.8,504.3 L467.8,511.3 L442.5,511.3 L442.5,515.4 Z" fill="#fff" stroke="#1222da" stroke-width="1.1" stroke-linejoin="miter"/>
<text transform="translate(275.2,606.3) rotate(-90)" font-family='"Liberation Serif", "Times New Roman", serif' font-size="14" fill="#1222da" font-weight="bold" textLength="28.5" lengthAdjust="spacingAndGlyphs" >DEP</text>
<text transform="translate(367.2,604.6) rotate(-90)" font-family='"Liberation Serif", "Times New Roman", serif' font-size="14" fill="#1222da" font-weight="bold" textLength="26.8" lengthAdjust="spacingAndGlyphs" >SEP</text>
<text x="384.3" y="591.2" font-family='"Liberation Serif", "Times New Roman", serif' font-size="13.5" fill="#1222da" font-weight="bold" textLength="51.4" lengthAdjust="spacingAndGlyphs" >Compton</text>
<text x="377" y="603.6" font-family='"Liberation Serif", "Times New Roman", serif' font-size="13.5" fill="#1222da" font-weight="bold" textLength="66.1" lengthAdjust="spacingAndGlyphs" >background</text>
<text transform="translate(472.3,608.7) rotate(-90)" font-family='"Liberation Serif", "Times New Roman", serif' font-size="14" fill="#1222da" font-weight="bold" textLength="27.6" lengthAdjust="spacingAndGlyphs" >FEP</text>
<text x="647.9" y="496.6" font-family='"Liberation Serif", "Times New Roman", serif' font-size="17" fill="#000" font-weight="bold" textLength="22.2" lengthAdjust="spacingAndGlyphs" >(a)</text>
<text transform="translate(96.2,538.8) rotate(-90)" font-family='"Liberation Serif", "Times New Roman", serif' font-size="17" fill="#dc1a30" font-weight="bold" textLength="29.1" lengthAdjust="spacingAndGlyphs" >keV</text>
<text transform="translate(91,682.6) rotate(-90)" font-family='"Liberation Serif", "Times New Roman", serif' font-size="17" fill="#000" font-weight="bold" textLength="74.2" lengthAdjust="spacingAndGlyphs" >Detector 1</text>
<text x="311.8" y="861.7" font-family='"Liberation Serif", "Times New Roman", serif' font-size="17" fill="#000" font-weight="bold" textLength="74.7" lengthAdjust="spacingAndGlyphs" >Detector 2</text>
<text x="529" y="860.8" font-family='"Liberation Serif", "Times New Roman", serif' font-size="17" fill="#dc1a30" font-weight="bold" textLength="29" lengthAdjust="spacingAndGlyphs" >keV</text>
</svg>
</body></html>
